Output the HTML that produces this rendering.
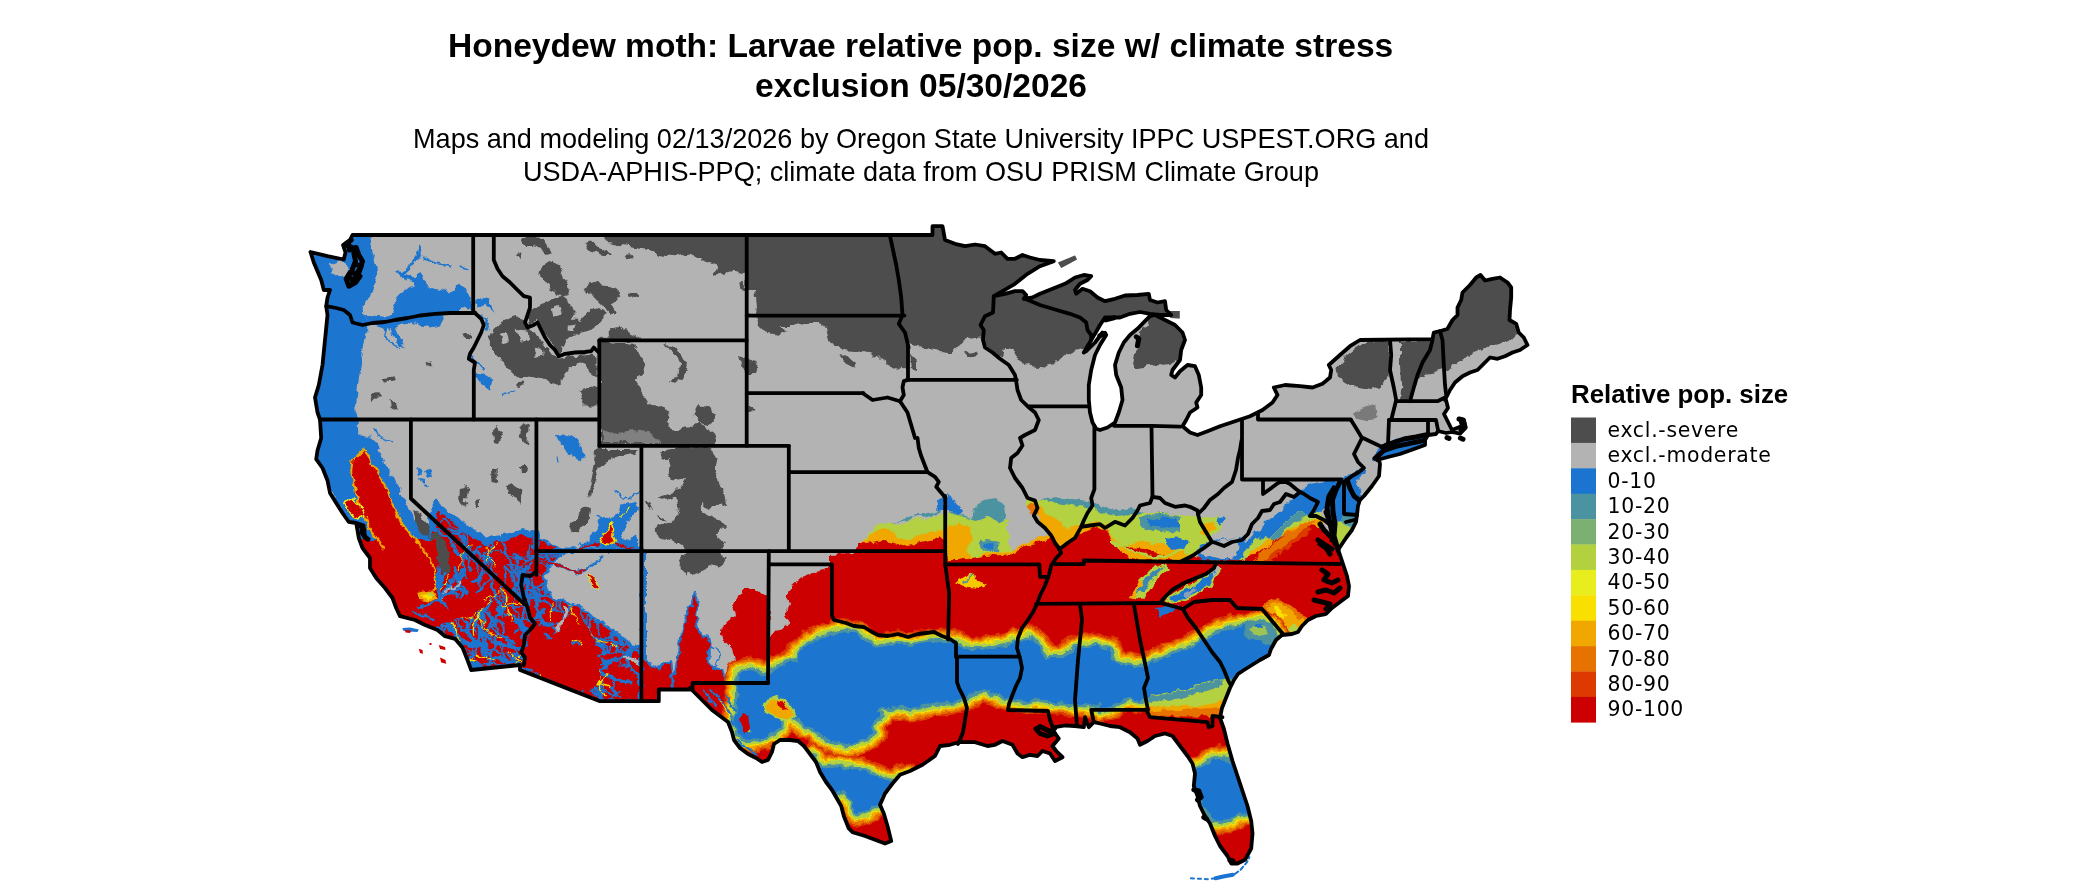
<!DOCTYPE html>
<html><head><meta charset="utf-8"><title>Honeydew moth map</title>
<style>html,body{margin:0;padding:0;background:#fff;overflow:hidden}body{width:2100px;height:892px;position:relative}</style></head>
<body>
<svg width="2100" height="892" viewBox="0 0 2100 892" style="position:absolute;left:0;top:0">
<defs>
<clipPath id="land"><path d="M352.5,235.0 L932.5,235.0 L932.5,226.2 L942.5,226.2 L945.0,240.0 L955.0,243.8 L965.0,246.2 L975.0,244.5 L985.0,246.2 L990.0,250.0 L995.0,253.8 L1001.2,252.5 L1007.5,258.8 L1015.0,258.8 L1022.5,255.0 L1030.0,257.5 L1040.0,260.0 L1053.8,261.2 L1040.0,266.2 L1027.5,273.8 L1015.0,283.8 L1002.5,291.2 L993.8,296.2 L1005.0,293.8 L1015.0,291.2 L1022.5,291.2 L1026.2,295.0 L1023.8,298.8 L1032.5,297.5 L1040.0,293.8 L1052.5,288.8 L1065.0,283.8 L1075.0,277.5 L1083.8,275.0 L1091.2,276.2 L1087.5,280.0 L1080.0,283.8 L1075.0,290.0 L1076.2,293.8 L1082.5,288.8 L1090.0,291.2 L1097.5,297.5 L1105.0,301.2 L1115.0,298.8 L1125.0,295.5 L1137.5,295.0 L1148.8,293.8 L1150.0,300.0 L1157.5,302.5 L1165.0,301.2 L1166.2,310.0 L1171.2,315.0 L1160.0,315.0 L1150.0,313.8 L1140.0,312.0 L1130.0,313.8 L1120.0,317.5 L1112.5,317.5 L1105.0,317.5 L1100.0,325.0 L1095.0,333.8 L1091.2,340.0 L1083.8,352.5 L1086.2,351.2 L1095.0,342.5 L1102.5,332.5 L1106.2,335.0 L1100.0,345.0 L1095.0,355.0 L1091.2,370.0 L1088.8,385.0 L1088.8,400.0 L1090.0,412.5 L1092.5,422.5 L1096.2,428.8 L1100.0,430.0 L1107.5,427.5 L1115.0,422.5 L1118.8,412.5 L1122.5,400.0 L1121.2,387.5 L1116.2,375.0 L1115.0,365.0 L1118.8,352.5 L1123.8,342.5 L1130.0,335.0 L1137.5,328.8 L1145.0,321.2 L1150.0,316.2 L1155.0,315.0 L1165.0,320.0 L1175.0,325.0 L1182.5,332.5 L1185.0,340.0 L1181.2,350.0 L1180.0,360.0 L1172.5,370.0 L1171.2,375.0 L1175.0,377.5 L1180.0,371.2 L1187.5,365.0 L1195.0,366.2 L1198.8,375.0 L1201.2,387.5 L1201.2,395.0 L1196.2,402.5 L1197.5,407.5 L1190.0,412.5 L1186.2,420.0 L1182.5,426.2 L1190.0,432.5 L1197.5,435.0 L1207.5,431.2 L1220.0,426.2 L1235.0,421.2 L1250.0,416.2 L1262.5,410.0 L1272.5,402.5 L1277.5,395.0 L1273.8,387.5 L1285.0,385.0 L1300.0,386.2 L1312.5,387.5 L1322.5,383.8 L1330.0,377.5 L1331.2,370.0 L1328.8,365.0 L1340.0,355.0 L1350.0,346.2 L1360.0,340.0 L1432.5,339.2 L1433.8,332.5 L1440.0,331.2 L1447.5,328.8 L1452.5,320.0 L1457.5,315.0 L1457.5,307.5 L1461.2,300.0 L1462.5,292.5 L1470.0,285.0 L1476.2,277.5 L1480.5,275.0 L1485.0,280.5 L1492.5,278.8 L1500.0,277.5 L1507.5,282.5 L1511.2,287.5 L1511.2,297.5 L1510.0,310.0 L1509.5,320.0 L1516.2,323.8 L1518.8,332.5 L1523.8,337.5 L1527.5,345.0 L1520.0,350.0 L1512.5,352.5 L1505.0,356.2 L1497.5,358.8 L1490.0,357.5 L1485.0,362.5 L1477.5,370.0 L1470.0,372.5 L1462.5,376.2 L1455.0,382.5 L1450.0,390.0 L1447.5,395.0 L1445.0,400.0 L1446.0,400.0 L1448.0,408.0 L1444.0,414.0 L1448.0,422.0 L1452.0,430.0 L1457.0,428.0 L1462.0,426.0 L1460.0,419.0 L1464.0,420.0 L1465.6,428.0 L1460.0,433.6 L1452.0,432.0 L1446.0,433.0 L1438.0,431.0 L1436.0,434.0 L1428.0,435.0 L1425.0,440.0 L1425.0,445.0 L1414.0,449.0 L1400.0,454.0 L1388.0,457.0 L1377.0,460.0 L1378.0,456.0 L1380.0,464.0 L1379.0,476.0 L1372.0,486.0 L1364.0,496.0 L1360.0,500.0 L1358.0,506.0 L1357.0,515.0 L1356.0,522.0 L1352.0,530.0 L1346.0,538.0 L1340.0,547.0 L1338.0,550.0 L1339.0,554.0 L1339.0,552.0 L1343.0,564.0 L1347.0,576.0 L1349.0,586.0 L1348.0,596.0 L1340.0,602.0 L1332.0,608.0 L1326.0,614.0 L1316.0,616.0 L1308.0,620.0 L1302.0,626.0 L1298.0,632.0 L1292.0,634.0 L1282.0,635.0 L1276.0,640.0 L1271.0,649.0 L1269.0,655.0 L1260.0,660.0 L1252.0,665.0 L1244.0,670.0 L1238.0,674.0 L1234.0,680.0 L1230.0,688.0 L1226.0,698.0 L1222.0,708.0 L1220.0,718.0 L1223.8,728.5 L1227.5,743.5 L1232.5,761.0 L1237.5,776.0 L1242.5,791.0 L1247.5,806.0 L1251.2,821.0 L1252.5,833.5 L1251.2,848.5 L1245.0,859.8 L1237.5,863.5 L1231.2,863.5 L1227.5,856.0 L1220.0,846.0 L1215.0,836.0 L1210.0,823.5 L1205.0,816.0 L1200.0,806.0 L1197.5,796.0 L1193.8,786.0 L1195.0,773.5 L1192.5,763.5 L1187.5,756.0 L1180.0,746.0 L1172.5,736.0 L1165.0,733.5 L1155.0,736.0 L1147.5,741.0 L1140.0,744.8 L1137.5,738.5 L1130.0,732.2 L1120.0,727.2 L1110.0,726.0 L1100.0,723.5 L1093.8,722.2 L1088.8,727.2 L1085.0,717.2 L1083.8,727.2 L1075.0,726.0 L1065.0,725.5 L1055.0,727.2 L1052.5,729.8 L1058.8,738.5 L1052.5,746.0 L1056.2,751.0 L1062.5,757.2 L1055.0,761.0 L1050.0,753.5 L1042.5,751.0 L1037.5,756.0 L1030.0,754.8 L1022.5,757.2 L1017.5,753.5 L1012.5,744.8 L1002.5,741.0 L995.0,744.8 L987.5,746.0 L975.0,742.2 L965.0,742.2 L958.8,742.2 L950.0,744.8 L940.0,746.0 L935.0,756.0 L922.5,764.8 L910.0,771.0 L900.0,774.8 L892.5,783.5 L885.0,793.5 L880.0,804.8 L883.8,813.5 L887.5,826.0 L891.2,841.0 L885.0,843.5 L875.0,839.8 L865.0,836.0 L852.5,832.2 L848.8,828.5 L843.8,816.0 L841.2,806.0 L836.2,797.2 L832.0,790.0 L826.0,782.0 L820.0,772.0 L816.0,762.0 L810.0,754.0 L804.0,746.0 L798.0,741.0 L790.0,740.0 L780.0,740.0 L774.0,744.0 L772.0,752.0 L768.0,760.0 L762.0,762.0 L756.0,758.0 L748.0,754.0 L740.0,748.0 L734.0,740.0 L732.0,732.0 L728.0,722.0 L720.0,716.0 L712.0,710.0 L704.0,702.0 L696.0,694.0 L690.0,688.0 L692.5,689.5 L658.8,689.5 L658.8,701.2 L641.2,701.2 L600.0,701.2 L520.0,670.0 L520.0,665.0 L471.2,670.0 L467.5,660.0 L462.5,647.5 L455.0,638.8 L445.0,636.2 L437.5,630.0 L425.0,625.0 L415.0,620.0 L400.0,616.2 L396.2,608.0 L392.5,598.0 L385.0,588.0 L376.2,578.0 L370.0,568.0 L370.0,558.0 L362.5,548.0 L358.8,538.0 L356.2,523.0 L348.8,521.8 L342.5,513.0 L336.2,503.0 L330.0,493.0 L327.5,480.5 L322.5,468.0 L316.2,459.2 L317.5,450.5 L321.2,438.0 L320.0,419.5 L317.5,412.5 L315.0,397.5 L318.8,385.0 L322.5,365.0 L325.0,340.0 L327.5,315.0 L326.2,306.2 L327.5,297.5 L330.0,290.0 L323.8,290.0 L321.2,280.0 L313.8,262.5 L310.5,252.0 L327.5,256.2 L343.8,259.5 L345.5,252.5 L343.0,245.0 L350.0,240.0Z"/>
<path d="M1167.7,310.9 L1179.7,310.9 L1179.7,318.5 L1170.7,317.9 L1167.7,314.9Z"/>
<path d="M1058.0,262.5 L1075.0,255.5 L1077.0,259.5 L1061.2,268.0Z"/>
</clipPath>
<filter id="rough" x="-2%" y="-2%" width="104%" height="104%"><feTurbulence type="fractalNoise" baseFrequency="0.09" numOctaves="3" seed="3" result="n"/><feDisplacementMap in="SourceGraphic" in2="n" scale="9" xChannelSelector="R" yChannelSelector="G"/></filter>
<filter id="rough2" x="-2%" y="-2%" width="104%" height="104%"><feTurbulence type="fractalNoise" baseFrequency="0.12" numOctaves="3" seed="11" result="n"/><feDisplacementMap in="SourceGraphic" in2="n" scale="7" xChannelSelector="R" yChannelSelector="G"/></filter>
</defs>
<rect width="2100" height="892" fill="#fff"/>
<g clip-path="url(#land)">
<rect x="290" y="215" width="1260" height="677" fill="#b3b3b3"/>
<g filter="url(#rough)">
<path d="M603.0,217.0 L603.0,238.0 L608.0,243.0 L620.0,245.0 L636.0,247.0 L650.0,249.0 L660.0,255.0 L672.0,257.0 L680.0,253.0 L690.0,255.0 L700.0,259.0 L708.0,263.0 L716.0,267.0 L714.0,275.0 L726.0,272.0 L736.0,273.0 L744.0,274.0 L746.4,275.0 L746.4,291.0 L755.0,291.0 L757.0,305.0 L756.0,314.0 L746.4,314.4 L746.4,317.0 L758.0,317.0 L760.0,325.0 L768.0,333.0 L780.0,335.0 L788.0,331.0 L780.0,327.0 L792.0,327.0 L804.0,324.0 L820.0,324.0 L826.0,327.0 L828.0,337.0 L834.0,345.0 L844.0,350.0 L856.0,351.0 L868.0,353.0 L880.0,357.0 L888.0,365.0 L900.0,368.0 L907.0,369.0 L908.0,353.0 L909.0,343.0 L920.0,346.2 L935.0,350.0 L950.0,352.5 L957.5,345.0 L970.0,338.8 L981.2,337.5 L985.0,347.5 L995.0,355.0 L1002.5,358.8 L1005.0,350.0 L1012.5,351.2 L1015.0,357.5 L1022.5,362.5 L1032.5,366.2 L1045.0,367.5 L1055.0,365.0 L1060.0,357.5 L1067.5,353.8 L1077.5,350.0 L1086.2,347.5 L1090.0,341.2 L1096.2,330.0 L1102.5,322.5 L1115.0,318.8 L1147.5,316.2 L1148.8,322.5 L1140.0,332.5 L1137.5,342.5 L1140.0,347.5 L1133.8,355.0 L1132.5,362.5 L1137.5,368.8 L1147.5,366.2 L1160.0,365.0 L1170.0,362.5 L1178.8,357.5 L1182.5,347.5 L1183.8,335.0 L1190.0,327.5 L1190.0,200.0Z" fill="#4d4d4d"/>
<path d="M1400.0,341.2 L1432.5,340.0 L1435.0,332.5 L1440.0,325.0 L1465.0,265.0 L1515.0,270.0 L1530.0,332.5 L1518.8,332.5 L1515.0,335.0 L1505.0,342.5 L1490.0,346.2 L1477.5,351.2 L1465.0,357.5 L1452.5,365.0 L1443.8,375.0 L1443.8,367.5 L1435.0,370.0 L1425.0,375.0 L1416.2,380.0 L1412.5,390.0 L1410.0,400.0 L1400.0,400.0 L1401.2,387.5 L1400.0,365.0Z" fill="#4d4d4d"/>
<path d="M1345.0,355.0 L1357.5,345.0 L1370.0,341.2 L1389.5,341.2 L1389.5,370.0 L1387.5,380.0 L1380.0,387.5 L1370.0,390.0 L1357.5,387.5 L1347.5,382.5 L1338.8,377.5 L1337.5,370.0 L1342.5,362.5Z" fill="#4d4d4d"/>
<path d="M1353.8,412.5 L1365.0,407.5 L1376.2,405.0 L1377.5,415.0 L1367.5,421.2 L1356.2,418.8Z" fill="#4d4d4d" opacity="0.55"/>
<path d="M489.9,336.7 L493.9,328.7 L499.9,322.8 L507.8,318.8 L515.8,315.8 L523.8,318.8 L527.8,326.7 L533.8,332.7 L539.8,336.7 L543.7,344.7 L551.7,354.7 L559.7,358.7 L569.7,356.7 L579.7,355.7 L591.6,354.7 L597.6,356.7 L597.6,376.6 L591.6,372.6 L583.6,364.7 L577.7,362.7 L569.7,368.6 L563.7,376.6 L557.7,382.6 L547.7,382.6 L539.8,378.6 L529.8,376.6 L519.8,378.6 L511.8,372.6 L505.8,364.7 L499.9,358.7 L493.9,352.7 L489.9,346.7Z" fill="#4d4d4d"/>
<path d="M537.8,270.9 L543.7,264.9 L551.7,260.9 L559.7,264.9 L563.7,274.9 L567.7,284.9 L569.7,292.8 L563.7,296.8 L555.7,292.8 L549.7,284.9 L541.7,280.9Z" fill="#4d4d4d"/>
<path d="M539.8,304.8 L551.7,298.8 L563.7,296.8 L571.7,302.8 L575.7,312.8 L571.7,320.8 L579.7,320.8 L587.6,312.8 L593.6,306.8 L599.6,308.8 L605.6,312.8 L603.6,320.8 L595.6,326.7 L587.6,330.7 L579.7,332.7 L571.7,336.7 L563.7,344.7 L559.7,352.7 L555.7,350.7 L551.7,344.7 L545.7,336.7 L541.7,328.7 L537.8,318.8 L533.8,322.8 L529.8,324.8 L527.8,318.8 L529.8,310.8Z" fill="#4d4d4d"/>
<path d="M583.6,288.8 L593.6,282.9 L605.6,283.9 L615.6,288.8 L622.5,294.8 L617.6,300.8 L611.6,302.8 L615.6,310.8 L609.6,314.8 L603.6,306.8 L597.6,300.8 L591.6,296.8Z" fill="#4d4d4d"/>
<path d="M628.5,292.8 L636.5,291.8 L639.5,295.8 L634.5,298.8 L629.5,296.8Z" fill="#4d4d4d"/>
<path d="M605.6,336.7 L611.6,328.7 L619.6,326.7 L627.5,332.7 L635.5,336.7 L639.5,340.3 L599.6,340.3 L599.6,336.7Z" fill="#4d4d4d"/>
<path d="M519.8,239.0 L527.8,237.0 L543.7,239.0 L547.7,245.0 L551.7,252.9 L545.7,254.9 L539.8,246.9 L531.8,245.0 L523.8,245.0Z" fill="#4d4d4d"/>
<path d="M513.8,256.9 L521.8,250.9 L519.8,258.9Z" fill="#4d4d4d"/>
<path d="M585.6,243.0 L591.6,241.0 L597.6,246.9 L609.6,250.9 L611.6,254.9 L603.6,254.9 L595.6,250.9 L589.6,248.9Z" fill="#4d4d4d"/>
<path d="M624.5,255.9 L632.5,254.9 L634.5,257.9 L627.5,259.3Z" fill="#4d4d4d"/>
<path d="M739.3,280.9 L744.8,278.9 L744.8,290.8 L740.2,288.8Z" fill="#4d4d4d"/>
<path d="M579.7,390.6 L591.6,386.6 L597.6,388.6 L597.6,404.6 L583.6,404.6Z" fill="#4d4d4d"/>
<path d="M513.8,383.6 L522.8,382.6 L523.8,386.6 L515.8,387.0Z" fill="#4d4d4d"/>
<path d="M462.9,333.7 L469.9,332.7 L470.9,338.7 L464.9,337.7Z" fill="#4d4d4d"/>
<path d="M499.9,332.7 L506.8,330.7 L508.8,342.7 L501.8,344.7Z" fill="#b3b3b3"/>
<path d="M516.8,328.7 L526.8,330.7 L527.8,341.7 L518.8,342.7Z" fill="#b3b3b3"/>
<path d="M533.8,346.7 L542.7,347.7 L543.7,355.7 L535.8,356.7Z" fill="#b3b3b3"/>
<path d="M551.7,308.8 L559.7,306.8 L561.7,314.8 L553.7,316.8Z" fill="#b3b3b3"/>
<path d="M567.7,324.8 L575.7,323.8 L573.7,330.7 L567.7,330.7Z" fill="#b3b3b3"/>
<path d="M697.5,405.0 L710.0,407.5 L715.0,415.0 L710.0,425.0 L700.0,422.5 L692.5,415.0Z" fill="#4d4d4d"/>
<path d="M370.0,392.5 L377.5,390.0 L378.8,396.2 L372.5,400.0Z" fill="#4d4d4d"/>
<path d="M388.8,400.0 L395.0,405.0 L397.5,411.2 L391.2,407.5Z" fill="#4d4d4d"/>
<path d="M382.5,378.8 L392.5,376.2 L393.8,380.0 L385.0,382.5Z" fill="#4d4d4d"/>
<path d="M427.5,362.5 L432.5,361.2 L432.5,366.2 L428.8,366.2Z" fill="#4d4d4d"/>
<path d="M600.0,342.5 L632.5,342.5 L636.2,350.0 L640.0,357.5 L645.0,365.0 L642.5,375.0 L635.0,382.5 L640.0,390.0 L645.0,397.5 L650.0,405.0 L657.5,408.8 L665.0,407.5 L670.0,415.0 L667.5,422.5 L675.0,427.5 L690.0,427.5 L700.0,422.5 L710.0,427.5 L715.0,438.0 L715.0,445.0 L600.0,445.0Z" fill="#4d4d4d"/>
<path d="M662.0,344.0 L672.0,345.0 L682.0,353.0 L687.0,363.0 L686.0,371.0 L680.0,379.0 L676.0,385.0 L672.0,383.0 L678.0,375.0 L680.0,365.0 L676.0,355.0 L668.0,349.0Z" fill="#4d4d4d"/>
<path d="M738.0,359.0 L744.0,358.0 L752.0,361.0 L758.0,363.0 L756.0,371.0 L750.0,373.0 L744.0,369.0 L740.0,365.0Z" fill="#4d4d4d"/>
<path d="M838.0,355.0 L848.0,357.0 L856.0,363.0 L854.0,368.0 L846.0,363.0 L840.0,359.0Z" fill="#4d4d4d"/>
<path d="M910.0,353.0 L918.0,361.0 L918.0,371.0 L912.0,369.0Z" fill="#4d4d4d"/>
<path d="M837.5,356.2 L847.5,355.0 L855.0,362.5 L852.5,367.5 L842.5,362.5Z" fill="#4d4d4d"/>
<path d="M965.0,352.5 L975.0,350.0 L977.5,355.0 L967.5,356.2Z" fill="#4d4d4d"/>
<path d="M597.8,447.9 L637.7,447.9 L633.7,453.9 L623.7,455.9 L613.8,457.9 L605.8,461.8 L599.8,467.8 L597.8,475.8 L595.8,483.8 L591.8,491.8 L588.8,498.8 L587.8,493.8 L590.8,483.8 L592.8,473.8 L594.8,463.8 L595.8,453.9Z" fill="#4d4d4d"/>
<path d="M568.9,527.7 L573.9,521.7 L579.9,513.7 L585.8,505.7 L589.8,504.7 L589.8,511.7 L588.8,519.7 L583.8,525.7 L577.9,531.7 L571.9,533.7Z" fill="#4d4d4d"/>
<path d="M659.7,449.9 L671.6,447.9 L689.6,447.9 L711.5,448.9 L716.5,457.9 L714.5,467.8 L717.5,477.8 L719.5,485.8 L725.5,491.8 L727.5,499.8 L725.5,507.7 L717.5,505.7 L709.5,509.7 L703.5,503.7 L701.5,511.7 L709.5,515.7 L719.5,519.7 L726.5,527.7 L719.5,527.7 L715.5,535.7 L725.5,541.6 L721.5,549.6 L721.5,557.6 L715.5,565.6 L707.5,559.6 L699.6,557.6 L691.6,567.6 L685.6,575.6 L681.6,569.6 L681.6,557.6 L689.6,551.6 L683.6,547.6 L675.6,541.6 L669.6,537.7 L663.6,539.7 L657.7,537.7 L655.7,529.7 L659.7,525.7 L667.6,523.7 L671.6,519.7 L675.6,513.7 L679.6,507.7 L677.6,499.8 L673.6,495.8 L663.6,499.8 L659.7,497.8 L667.6,493.8 L675.6,489.8 L681.6,485.8 L685.6,477.8 L679.6,481.8 L671.6,479.8 L667.6,473.8 L671.6,467.8 L669.6,459.9 L663.6,457.9Z" fill="#4d4d4d"/>
<path d="M645.7,501.7 L649.7,503.7 L651.7,509.7 L648.7,510.7Z" fill="#4d4d4d"/>
<path d="M655.7,513.7 L663.6,517.7 L667.6,521.7 L659.7,519.7Z" fill="#4d4d4d"/>
<path d="M748.4,407.0 L753.4,406.0 L755.4,410.0 L751.4,413.0 L748.4,411.0Z" fill="#4d4d4d"/>
<path d="M669.6,404.0 L691.6,408.0 L689.6,421.9 L677.6,429.9 L669.6,427.9Z" fill="#b3b3b3"/>
<path d="M601.8,429.9 L615.8,433.9 L631.7,429.9 L647.7,431.9 L659.7,437.9 L659.7,442.9 L601.8,442.9Z" fill="#b3b3b3" opacity="0.5"/>
<path d="M680.0,555.0 L695.0,552.5 L710.0,553.8 L725.0,557.5 L720.0,567.5 L710.0,565.0 L700.0,570.0 L692.5,575.0 L682.5,572.5 L685.0,562.5Z" fill="#4d4d4d"/>
<path d="M415.0,513.0 L422.5,518.0 L426.2,528.0 L425.0,535.5 L420.0,530.5 L416.2,520.5Z" fill="#4d4d4d"/>
<path d="M430.0,538.0 L437.5,535.5 L442.5,545.5 L446.2,555.5 L450.0,568.0 L445.0,570.5 L440.0,558.0 L433.8,548.0Z" fill="#4d4d4d"/>
<path d="M492.5,470.5 L497.5,469.2 L497.5,480.5 L492.5,480.5Z" fill="#4d4d4d"/>
<path d="M507.5,486.8 L515.0,484.2 L522.5,490.5 L520.0,503.0 L515.0,495.5 L510.0,498.0 L506.2,491.8Z" fill="#4d4d4d"/>
<path d="M462.5,500.5 L467.5,501.8 L465.0,505.5Z" fill="#4d4d4d"/>
<path d="M520.0,468.0 L525.0,466.8 L523.8,473.0Z" fill="#4d4d4d"/>
<path d="M492.0,430.0 L498.0,426.0 L502.0,432.0 L498.0,444.0 L493.0,443.0Z" fill="#4d4d4d"/>
<path d="M518.0,428.0 L524.0,422.0 L530.0,426.0 L528.0,446.0 L523.0,440.0 L520.0,434.0Z" fill="#4d4d4d"/>
<path d="M492.0,469.0 L497.0,468.0 L498.0,480.0 L493.0,480.0Z" fill="#4d4d4d"/>
<path d="M507.0,486.0 L514.0,484.0 L522.0,490.0 L520.0,500.0 L512.0,494.0 L507.0,496.0Z" fill="#4d4d4d"/>
<path d="M461.0,488.0 L468.0,486.0 L466.0,496.0 L463.0,506.0 L460.0,500.0Z" fill="#4d4d4d"/>
<path d="M476.0,500.0 L480.0,499.0 L480.0,508.0 L477.0,508.0Z" fill="#4d4d4d"/>
<path d="M520.0,466.0 L525.0,465.0 L526.0,474.0 L521.0,474.0Z" fill="#4d4d4d"/>
</g>
<g filter="url(#rough2)">
<path d="M305.0,230.0 L370.0,232.5 L371.2,242.5 L372.5,252.5 L376.2,265.0 L377.5,277.5 L372.5,290.0 L367.5,300.0 L362.5,307.5 L365.0,315.0 L367.5,322.5 L367.5,327.5 L365.0,340.0 L362.5,355.0 L360.0,370.0 L357.5,390.0 L356.2,405.0 L357.5,419.5 L358.8,440.0 L305.0,440.0Z" fill="#1b74cf"/>
<path d="M330.0,265.0 L340.0,261.2 L347.5,265.0 L346.2,275.0 L337.5,277.5 L331.2,272.5Z" fill="#b3b3b3"/>
<path d="M367.5,322.5 L375.0,325.0 L382.5,327.5 L385.0,335.0 L387.5,327.5 L392.5,335.0 L400.0,345.0 L405.0,347.5 L400.0,340.0 L395.0,330.0 L400.0,323.8 L410.0,322.5 L420.0,325.0 L430.0,327.5 L440.0,325.0 L445.0,315.0 L455.0,312.5 L465.0,307.5 L473.8,310.0 L473.8,305.0 L470.0,297.5 L465.0,287.5 L460.0,283.8 L450.0,292.5 L440.0,290.0 L430.0,287.5 L425.0,280.0 L420.0,272.5 L415.0,277.5 L405.0,273.8 L397.5,271.2 L400.0,275.0 L410.0,280.0 L415.0,287.5 L407.5,290.0 L397.5,295.0 L392.5,302.5 L395.0,310.0 L390.0,315.0 L380.0,317.5 L372.5,315.0 L365.0,315.0Z" fill="#1b74cf"/>
<path d="M420.0,247.5 L418.0,256.2 L412.5,263.8 L406.2,270.0 L401.2,273.8" fill="none" stroke="#1b74cf" stroke-width="3.2" stroke-linecap="round" stroke-linejoin="round"/>
<path d="M397.5,271.2 L402.5,276.2 L407.5,278.8" fill="none" stroke="#1b74cf" stroke-width="2" stroke-linecap="round" stroke-linejoin="round"/>
<path d="M422.5,257.5 L430.0,261.2 L440.0,263.8 L450.0,266.2" fill="none" stroke="#1b74cf" stroke-width="1.8" stroke-linecap="round" stroke-linejoin="round"/>
<path d="M460.0,266.2 L465.0,268.8 L468.8,269.5" fill="none" stroke="#1b74cf" stroke-width="1.5" stroke-linecap="round" stroke-linejoin="round"/>
<path d="M385.0,335.0 L390.0,342.5 L400.0,347.5" fill="none" stroke="#1b74cf" stroke-width="2" stroke-linecap="round" stroke-linejoin="round"/>
<path d="M475.9,300.8 L482.9,297.8 L488.9,299.8 L491.9,306.8 L494.9,312.8 L489.9,308.8 L484.9,304.8 L478.9,306.8Z" fill="#1b74cf"/>
<path d="M477.9,315.8 L485.9,318.8 L488.9,326.7 L486.9,330.7" fill="none" stroke="#1b74cf" stroke-width="2" stroke-linecap="round" stroke-linejoin="round"/>
<path d="M474.9,371.6 L481.9,372.6 L488.9,376.6 L492.3,380.6 L489.9,390.6 L484.9,386.6 L478.9,382.6 L475.5,377.6Z" fill="#1b74cf"/>
<path d="M469.9,356.7 L477.9,362.7 L482.9,368.6" fill="none" stroke="#1b74cf" stroke-width="2" stroke-linecap="round" stroke-linejoin="round"/>
<path d="M500.8,395.6 L507.8,393.6 L514.8,391.0" fill="none" stroke="#1b74cf" stroke-width="1.5" stroke-linecap="round" stroke-linejoin="round"/>
<path d="M555.9,434.9 L567.9,433.9 L577.9,437.9 L581.8,447.9 L583.8,457.9 L579.9,459.9 L573.9,455.9 L565.9,451.9 L559.9,443.9Z" fill="#1b74cf"/>
<path d="M315.0,435.5 L372.5,435.5 L377.5,448.0 L383.8,460.5 L391.2,475.5 L398.8,488.0 L405.0,500.5 L410.0,513.0 L417.5,525.5 L427.5,538.0 L435.0,550.5 L440.0,563.0 L430.0,568.0 L415.0,548.0 L400.0,533.0 L385.0,518.0 L372.5,533.0 L358.8,538.0 L348.8,521.8 L315.0,463.0Z" fill="#1b74cf"/>
<path d="M367.8,427.7 L377.8,423.7 L385.8,427.7 L393.7,437.7 L401.7,439.7 L407.7,447.6 L401.7,451.6 L393.7,447.6 L383.8,443.6 L375.8,439.7 L369.8,435.7Z" fill="#b3b3b3" opacity="0.65"/>
<path d="M373.8,429.7 L381.8,437.7 L391.7,441.6" fill="none" stroke="#1b74cf" stroke-width="1.5" stroke-linecap="round" stroke-linejoin="round"/>
<path d="M415.0,467.0 L420.0,468.0 L422.0,473.0 L418.0,475.0Z" fill="#1b74cf"/>
<path d="M424.0,471.0 L430.0,470.0 L432.0,476.0 L427.0,478.0Z" fill="#1b74cf"/>
<path d="M420.0,478.0 L425.0,479.0 L426.0,484.0 L422.0,483.0Z" fill="#1b74cf"/>
<path d="M426.0,484.0 L430.0,485.0 L429.0,488.0 L426.0,487.6Z" fill="#1b74cf"/>
<path d="M436.2,504.2 L445.0,513.0 L455.0,520.5 L465.0,528.0 L475.0,535.5 L487.5,541.8 L497.5,538.0 L510.0,536.8 L522.5,531.8 L536.2,534.2 L536.2,551.0 L642.5,551.0 L642.5,703.0 L565.0,703.0 L465.0,663.0 L390.0,618.0 L372.5,578.0 L370.0,558.0 L362.5,548.0 L358.8,538.0 L365.0,533.0 L375.0,538.0 L385.0,553.0 L390.0,563.0 L410.0,578.0 L430.0,598.0 L437.5,588.0 L437.5,573.0 L432.5,560.5 L426.2,548.0 L427.5,538.0 L430.0,525.5 L432.5,518.0Z" fill="#cc0000" stroke="#1b74cf" stroke-width="7" stroke-linejoin="round"/>
<path d="M450.6,534.2 L457.5,533.9 L461.7,531.7" fill="none" stroke="#1b74cf" stroke-width="2.5" stroke-linecap="round" stroke-linejoin="round"/>
<path d="M537.7,620.1 L542.3,623.1 L548.4,623.1 L555.2,623.7 L561.5,621.8 L566.3,616.5 L571.0,612.0" fill="none" stroke="#1b74cf" stroke-width="1.5" stroke-linecap="round" stroke-linejoin="round"/>
<path d="M579.3,596.8 L574.8,601.0 L570.4,607.2 L565.8,612.0 L562.7,618.7" fill="none" stroke="#1b74cf" stroke-width="3.0" stroke-linecap="round" stroke-linejoin="round"/>
<path d="M401.9,601.4 L402.2,609.8 L404.2,616.5 L405.3,624.6" fill="none" stroke="#1b74cf" stroke-width="1.5" stroke-linecap="round" stroke-linejoin="round"/>
<path d="M626.8,598.5 L633.9,603.4 L639.4,606.2" fill="none" stroke="#1b74cf" stroke-width="2.0" stroke-linecap="round" stroke-linejoin="round"/>
<path d="M486.2,613.5 L489.3,618.4 L489.9,623.2 L492.3,627.8 L495.5,632.5 L500.9,635.2 L508.3,639.2 L514.3,643.2" fill="none" stroke="#1b74cf" stroke-width="2.0" stroke-linecap="round" stroke-linejoin="round"/>
<path d="M580.1,678.1 L577.9,683.7 L578.3,689.9 L581.8,693.8 L584.6,701.8" fill="none" stroke="#1b74cf" stroke-width="3.0" stroke-linecap="round" stroke-linejoin="round"/>
<path d="M465.5,630.3 L470.6,637.4 L474.8,640.7 L480.1,642.7 L483.6,645.6 L485.2,650.2 L485.9,656.7" fill="none" stroke="#1b74cf" stroke-width="2.5" stroke-linecap="round" stroke-linejoin="round"/>
<path d="M638.2,673.7 L642.1,679.9 L642.4,686.2" fill="none" stroke="#1b74cf" stroke-width="3.0" stroke-linecap="round" stroke-linejoin="round"/>
<path d="M588.2,648.0 L590.5,653.4 L594.8,660.1 L597.0,667.1 L602.2,672.9 L607.8,675.2" fill="none" stroke="#1b74cf" stroke-width="2.5" stroke-linecap="round" stroke-linejoin="round"/>
<path d="M481.9,630.6 L485.6,634.5 L492.7,637.0 L497.2,642.1 L501.6,647.1 L502.2,653.8 L507.4,659.5" fill="none" stroke="#1b74cf" stroke-width="1.5" stroke-linecap="round" stroke-linejoin="round"/>
<path d="M613.5,635.9 L613.3,642.5 L609.6,648.7 L606.2,651.9 L602.4,654.3 L596.2,656.7 L587.8,656.9 L583.9,658.7" fill="none" stroke="#1b74cf" stroke-width="2.0" stroke-linecap="round" stroke-linejoin="round"/>
<path d="M530.7,543.9 L530.2,549.1 L529.2,557.7 L524.2,561.7 L520.9,566.7 L518.4,572.5 L518.4,577.1 L515.6,584.0" fill="none" stroke="#1b74cf" stroke-width="1.5" stroke-linecap="round" stroke-linejoin="round"/>
<path d="M462.7,554.6 L462.2,562.9 L464.3,567.8 L464.8,573.8 L465.6,578.2" fill="none" stroke="#1b74cf" stroke-width="2.5" stroke-linecap="round" stroke-linejoin="round"/>
<path d="M462.6,571.4 L461.4,576.8 L458.4,583.2 L455.0,587.2" fill="none" stroke="#1b74cf" stroke-width="3.0" stroke-linecap="round" stroke-linejoin="round"/>
<path d="M591.4,673.1 L596.3,677.6 L600.4,681.2 L602.6,688.8 L605.4,692.1 L611.4,694.7" fill="none" stroke="#1b74cf" stroke-width="2.0" stroke-linecap="round" stroke-linejoin="round"/>
<path d="M433.8,528.4 L439.9,533.4 L447.3,535.3 L451.0,538.8 L452.8,545.2 L456.4,551.2 L462.6,556.9 L466.7,557.6" fill="none" stroke="#1b74cf" stroke-width="3.0" stroke-linecap="round" stroke-linejoin="round"/>
<path d="M636.3,606.5 L636.4,613.7 L636.0,622.6 L637.0,627.6" fill="none" stroke="#1b74cf" stroke-width="2.0" stroke-linecap="round" stroke-linejoin="round"/>
<path d="M466.8,604.8 L470.2,608.7 L475.9,609.8 L479.9,612.7 L481.5,617.4 L483.6,622.1" fill="none" stroke="#1b74cf" stroke-width="2.5" stroke-linecap="round" stroke-linejoin="round"/>
<path d="M544.9,553.6 L551.5,555.4 L558.6,555.7 L565.3,558.5" fill="none" stroke="#1b74cf" stroke-width="2.0" stroke-linecap="round" stroke-linejoin="round"/>
<path d="M612.1,660.1 L607.7,664.1 L604.1,669.3 L598.1,671.8 L591.7,673.4 L584.9,672.3" fill="none" stroke="#1b74cf" stroke-width="3.0" stroke-linecap="round" stroke-linejoin="round"/>
<path d="M585.2,645.6 L589.7,646.8 L597.6,644.9 L604.7,643.9" fill="none" stroke="#1b74cf" stroke-width="1.5" stroke-linecap="round" stroke-linejoin="round"/>
<path d="M585.1,653.0 L581.6,657.6 L579.1,661.9 L575.1,666.7" fill="none" stroke="#1b74cf" stroke-width="2.5" stroke-linecap="round" stroke-linejoin="round"/>
<path d="M635.6,602.4 L632.5,608.9 L632.8,614.2 L631.5,620.8 L633.0,625.8 L634.2,633.1" fill="none" stroke="#1b74cf" stroke-width="2.5" stroke-linecap="round" stroke-linejoin="round"/>
<path d="M441.3,606.9 L435.9,610.2 L433.2,615.2 L433.8,624.1" fill="none" stroke="#1b74cf" stroke-width="3.0" stroke-linecap="round" stroke-linejoin="round"/>
<path d="M613.5,600.9 L616.7,607.3 L620.4,610.9 L624.7,614.6 L632.0,617.3 L639.7,617.1" fill="none" stroke="#1b74cf" stroke-width="3.0" stroke-linecap="round" stroke-linejoin="round"/>
<path d="M573.2,674.0 L574.6,682.5 L576.7,689.8 L576.9,693.9 L575.2,702.0" fill="none" stroke="#1b74cf" stroke-width="3.0" stroke-linecap="round" stroke-linejoin="round"/>
<path d="M623.6,585.9 L618.5,591.3 L617.1,596.6 L617.6,603.8 L618.5,610.2 L618.4,617.4" fill="none" stroke="#1b74cf" stroke-width="1.5" stroke-linecap="round" stroke-linejoin="round"/>
<path d="M589.1,613.6 L586.0,618.3 L585.5,623.9 L586.2,628.9 L591.4,633.5 L593.2,638.5 L593.6,645.3" fill="none" stroke="#1b74cf" stroke-width="1.5" stroke-linecap="round" stroke-linejoin="round"/>
<path d="M460.9,640.7 L460.1,646.6 L458.5,652.0 L453.1,655.7" fill="none" stroke="#1b74cf" stroke-width="3.0" stroke-linecap="round" stroke-linejoin="round"/>
<path d="M633.5,601.6 L635.5,606.7 L638.7,611.7" fill="none" stroke="#1b74cf" stroke-width="3.0" stroke-linecap="round" stroke-linejoin="round"/>
<path d="M542.4,656.3 L544.6,662.3 L551.1,666.8 L556.3,670.7" fill="none" stroke="#1b74cf" stroke-width="2.0" stroke-linecap="round" stroke-linejoin="round"/>
<path d="M437.8,567.1 L439.4,572.7 L440.3,577.6 L438.4,581.8 L438.8,587.7" fill="none" stroke="#1b74cf" stroke-width="2.0" stroke-linecap="round" stroke-linejoin="round"/>
<path d="M498.6,642.5 L506.3,644.7 L511.1,647.3 L519.2,647.6 L526.7,646.1 L532.9,647.5 L539.0,647.0" fill="none" stroke="#1b74cf" stroke-width="3.0" stroke-linecap="round" stroke-linejoin="round"/>
<path d="M470.4,546.6 L467.6,551.8 L463.5,554.8 L461.9,559.4" fill="none" stroke="#1b74cf" stroke-width="3.0" stroke-linecap="round" stroke-linejoin="round"/>
<path d="M543.9,608.6 L539.5,613.9 L539.3,618.4 L539.8,625.1 L538.3,632.7 L538.1,637.2 L536.7,643.6" fill="none" stroke="#1b74cf" stroke-width="2.0" stroke-linecap="round" stroke-linejoin="round"/>
<path d="M485.4,568.5 L487.9,574.7 L491.3,579.9 L492.4,584.7" fill="none" stroke="#1b74cf" stroke-width="1.5" stroke-linecap="round" stroke-linejoin="round"/>
<path d="M461.7,570.8 L457.8,576.1 L451.4,581.4 L448.3,585.6 L444.5,591.9 L437.3,596.2" fill="none" stroke="#1b74cf" stroke-width="2.5" stroke-linecap="round" stroke-linejoin="round"/>
<path d="M396.4,602.9 L396.9,610.0 L398.3,615.6 L398.0,620.5" fill="none" stroke="#1b74cf" stroke-width="3.0" stroke-linecap="round" stroke-linejoin="round"/>
<path d="M485.6,550.8 L480.7,556.7 L479.3,562.1 L477.9,569.5 L478.5,574.7" fill="none" stroke="#1b74cf" stroke-width="1.5" stroke-linecap="round" stroke-linejoin="round"/>
<path d="M522.8,569.1 L521.7,576.9 L518.1,581.1 L515.0,588.7 L511.8,592.1" fill="none" stroke="#1b74cf" stroke-width="2.5" stroke-linecap="round" stroke-linejoin="round"/>
<path d="M634.8,620.2 L638.4,626.0 L639.3,632.8 L639.5,638.7 L641.9,643.3" fill="none" stroke="#1b74cf" stroke-width="3.0" stroke-linecap="round" stroke-linejoin="round"/>
<path d="M528.8,633.8 L531.0,640.4 L534.3,644.4 L539.1,649.2 L542.2,654.3 L545.3,658.9" fill="none" stroke="#1b74cf" stroke-width="2.0" stroke-linecap="round" stroke-linejoin="round"/>
<path d="M639.2,637.0 L632.6,640.8 L630.3,648.5 L627.6,653.8 L622.4,656.4 L620.1,662.3" fill="none" stroke="#1b74cf" stroke-width="1.5" stroke-linecap="round" stroke-linejoin="round"/>
<path d="M462.2,657.9 L469.5,660.5 L476.9,664.4 L482.6,665.0 L486.8,663.4 L494.8,663.7 L502.8,662.9 L508.1,665.0" fill="none" stroke="#1b74cf" stroke-width="1.5" stroke-linecap="round" stroke-linejoin="round"/>
<path d="M560.9,641.0 L562.4,645.9 L564.1,650.0 L562.7,655.5 L563.9,663.5" fill="none" stroke="#1b74cf" stroke-width="1.5" stroke-linecap="round" stroke-linejoin="round"/>
<path d="M597.8,637.9 L602.4,643.4 L605.9,648.3 L610.1,652.4" fill="none" stroke="#1b74cf" stroke-width="1.5" stroke-linecap="round" stroke-linejoin="round"/>
<path d="M501.6,539.8 L505.1,545.7 L506.8,553.6 L508.1,559.1 L511.9,564.8 L513.1,569.3 L511.9,576.7" fill="none" stroke="#1b74cf" stroke-width="2.0" stroke-linecap="round" stroke-linejoin="round"/>
<path d="M612.7,634.0 L613.3,642.0 L617.2,647.8 L616.3,652.6" fill="none" stroke="#1b74cf" stroke-width="2.5" stroke-linecap="round" stroke-linejoin="round"/>
<path d="M582.5,689.2 L583.0,697.6 L586.2,702.0" fill="none" stroke="#1b74cf" stroke-width="1.5" stroke-linecap="round" stroke-linejoin="round"/>
<path d="M433.3,604.8 L436.5,611.4 L440.5,615.6 L441.2,622.2 L441.1,630.6" fill="none" stroke="#1b74cf" stroke-width="3.0" stroke-linecap="round" stroke-linejoin="round"/>
<path d="M516.3,619.5 L519.6,626.2 L526.4,630.6 L533.2,633.8 L540.8,634.4 L545.4,638.0 L548.4,644.6 L550.9,647.8" fill="none" stroke="#1b74cf" stroke-width="3.0" stroke-linecap="round" stroke-linejoin="round"/>
<path d="M481.4,606.1 L484.0,609.5 L487.1,615.0 L490.2,619.7 L495.1,624.2" fill="none" stroke="#1b74cf" stroke-width="3.0" stroke-linecap="round" stroke-linejoin="round"/>
<path d="M586.2,644.9 L581.8,649.9 L580.6,656.7 L578.4,663.5 L575.8,670.8" fill="none" stroke="#1b74cf" stroke-width="2.5" stroke-linecap="round" stroke-linejoin="round"/>
<path d="M473.9,551.5 L479.6,556.3 L484.5,557.3 L491.7,558.5" fill="none" stroke="#1b74cf" stroke-width="2.5" stroke-linecap="round" stroke-linejoin="round"/>
<path d="M490.8,651.7 L491.6,656.3 L488.5,664.4 L488.2,671.6" fill="none" stroke="#1b74cf" stroke-width="2.5" stroke-linecap="round" stroke-linejoin="round"/>
<path d="M551.5,640.5 L544.3,643.5 L540.3,644.4 L533.5,648.4 L527.9,650.0 L523.1,653.3" fill="none" stroke="#1b74cf" stroke-width="2.0" stroke-linecap="round" stroke-linejoin="round"/>
<path d="M537.7,642.0 L543.2,647.5 L545.0,654.8 L546.1,659.8 L546.4,668.3 L548.3,672.3 L548.2,677.0 L550.3,683.4" fill="none" stroke="#1b74cf" stroke-width="1.5" stroke-linecap="round" stroke-linejoin="round"/>
<path d="M538.6,642.8 L542.2,649.0 L547.1,655.1 L550.3,660.5 L553.7,663.5 L555.4,671.2 L560.4,676.6 L563.5,682.6" fill="none" stroke="#1b74cf" stroke-width="3.0" stroke-linecap="round" stroke-linejoin="round"/>
<path d="M542.1,562.8 L546.2,566.5 L547.6,574.3 L547.9,579.7" fill="none" stroke="#1b74cf" stroke-width="1.5" stroke-linecap="round" stroke-linejoin="round"/>
<path d="M570.3,661.1 L575.9,665.6 L583.6,667.3 L587.0,670.1" fill="none" stroke="#1b74cf" stroke-width="2.5" stroke-linecap="round" stroke-linejoin="round"/>
<path d="M498.0,601.9 L501.0,606.9 L500.2,611.9 L497.6,616.0 L495.2,622.7 L489.4,627.6 L485.8,632.4 L481.8,636.1" fill="none" stroke="#1b74cf" stroke-width="2.5" stroke-linecap="round" stroke-linejoin="round"/>
<path d="M365.9,545.2 L367.6,553.3 L371.3,558.7 L373.7,565.6 L376.4,569.7 L377.0,577.4 L379.8,584.4 L381.6,590.3" fill="none" stroke="#1b74cf" stroke-width="2.0" stroke-linecap="round" stroke-linejoin="round"/>
<path d="M609.9,551.5 L613.9,554.5 L620.0,556.2 L624.9,557.7 L629.0,561.5 L634.9,561.2 L642.1,563.2" fill="none" stroke="#1b74cf" stroke-width="2.0" stroke-linecap="round" stroke-linejoin="round"/>
<path d="M583.2,642.1 L580.1,647.3 L575.6,654.3 L572.2,661.0 L570.0,667.9 L563.8,672.6" fill="none" stroke="#1b74cf" stroke-width="3.0" stroke-linecap="round" stroke-linejoin="round"/>
<path d="M600.6,639.3 L607.5,640.5 L615.3,641.8 L620.3,643.8 L627.1,645.5 L634.7,647.8 L640.8,651.6" fill="none" stroke="#1b74cf" stroke-width="2.5" stroke-linecap="round" stroke-linejoin="round"/>
<path d="M625.6,607.4 L628.4,613.5 L630.1,620.0 L632.9,624.8 L633.4,632.6 L638.1,637.5" fill="none" stroke="#1b74cf" stroke-width="2.5" stroke-linecap="round" stroke-linejoin="round"/>
<path d="M478.1,643.0 L482.2,650.4 L484.7,657.4 L487.8,661.0" fill="none" stroke="#1b74cf" stroke-width="2.5" stroke-linecap="round" stroke-linejoin="round"/>
<path d="M579.1,665.2 L584.7,668.6 L589.0,675.3 L594.6,681.5 L598.3,687.1 L599.0,694.5 L598.2,701.9" fill="none" stroke="#1b74cf" stroke-width="2.5" stroke-linecap="round" stroke-linejoin="round"/>
<path d="M460.3,634.3 L460.9,642.7 L463.7,647.8 L469.7,650.6 L472.9,655.6 L475.8,660.2 L480.2,664.4" fill="none" stroke="#1b74cf" stroke-width="1.5" stroke-linecap="round" stroke-linejoin="round"/>
<path d="M614.6,613.3 L617.9,616.6 L619.9,621.0 L624.1,626.9 L628.9,631.5" fill="none" stroke="#1b74cf" stroke-width="2.5" stroke-linecap="round" stroke-linejoin="round"/>
<path d="M615.7,643.5 L618.1,648.0 L621.9,653.6 L626.3,658.0 L627.6,662.8 L630.0,666.6 L636.0,672.3 L638.3,677.8" fill="none" stroke="#1b74cf" stroke-width="1.5" stroke-linecap="round" stroke-linejoin="round"/>
<path d="M545.7,572.1 L544.1,577.1 L545.5,582.7 L547.0,591.3 L545.9,596.2" fill="none" stroke="#1b74cf" stroke-width="2.5" stroke-linecap="round" stroke-linejoin="round"/>
<path d="M471.9,614.4 L470.8,618.5 L467.0,624.8 L466.3,631.5" fill="none" stroke="#1b74cf" stroke-width="2.5" stroke-linecap="round" stroke-linejoin="round"/>
<path d="M465.5,533.5 L466.8,537.5 L467.8,542.3 L467.4,548.4 L471.0,552.1 L471.0,557.6 L468.7,562.4 L469.9,568.9" fill="none" stroke="#1b74cf" stroke-width="2.0" stroke-linecap="round" stroke-linejoin="round"/>
<path d="M556.2,584.7 L562.3,590.0 L569.5,592.6 L575.8,591.7 L582.0,591.9 L590.6,593.9 L595.2,593.3" fill="none" stroke="#1b74cf" stroke-width="2.5" stroke-linecap="round" stroke-linejoin="round"/>
<path d="M436.9,617.3 L432.0,621.6 L427.6,624.2 L422.0,627.9 L414.2,631.1" fill="none" stroke="#1b74cf" stroke-width="1.5" stroke-linecap="round" stroke-linejoin="round"/>
<path d="M553.6,627.1 L554.9,633.5 L558.6,638.8 L563.8,642.1 L566.1,648.8 L567.6,654.5 L566.7,662.4 L565.7,666.6" fill="none" stroke="#1b74cf" stroke-width="2.5" stroke-linecap="round" stroke-linejoin="round"/>
<path d="M635.1,644.0 L632.4,647.6 L626.2,651.5 L621.9,655.6 L617.2,658.2 L611.7,659.3 L604.7,663.8 L599.5,665.1" fill="none" stroke="#1b74cf" stroke-width="2.0" stroke-linecap="round" stroke-linejoin="round"/>
<path d="M571.6,689.4 L573.6,694.2 L578.1,700.7" fill="none" stroke="#1b74cf" stroke-width="3.0" stroke-linecap="round" stroke-linejoin="round"/>
<path d="M461.7,616.4 L460.1,622.8 L456.6,627.9 L456.0,632.0 L457.0,636.4" fill="none" stroke="#1b74cf" stroke-width="1.5" stroke-linecap="round" stroke-linejoin="round"/>
<path d="M519.2,620.9 L524.5,627.1 L526.8,632.2 L530.5,635.5 L534.6,637.1 L539.5,642.6" fill="none" stroke="#1b74cf" stroke-width="2.5" stroke-linecap="round" stroke-linejoin="round"/>
<path d="M528.5,583.2 L533.3,588.3 L535.1,594.0 L536.5,602.5" fill="none" stroke="#1b74cf" stroke-width="2.0" stroke-linecap="round" stroke-linejoin="round"/>
<path d="M581.9,645.3 L586.4,647.5 L591.4,651.6 L596.0,655.2 L599.9,658.3 L603.6,661.7 L610.8,662.7" fill="none" stroke="#1b74cf" stroke-width="3.0" stroke-linecap="round" stroke-linejoin="round"/>
<path d="M604.7,680.9 L603.3,684.9 L605.9,690.3 L608.5,695.0" fill="none" stroke="#1b74cf" stroke-width="1.5" stroke-linecap="round" stroke-linejoin="round"/>
<path d="M477.4,553.3 L481.3,557.1 L489.1,559.0 L491.4,566.1 L493.2,572.1 L496.3,576.1" fill="none" stroke="#1b74cf" stroke-width="2.0" stroke-linecap="round" stroke-linejoin="round"/>
<path d="M455.5,532.1 L459.3,535.3 L463.3,538.6 L465.9,543.3 L471.0,548.9 L473.5,556.3 L476.6,561.8 L479.3,566.4" fill="none" stroke="#1b74cf" stroke-width="2.0" stroke-linecap="round" stroke-linejoin="round"/>
<path d="M434.3,541.2 L437.6,546.5 L436.6,550.9 L436.9,559.0" fill="none" stroke="#1b74cf" stroke-width="3.0" stroke-linecap="round" stroke-linejoin="round"/>
<path d="M568.4,556.2 L564.0,559.9 L557.3,561.9 L553.6,567.2 L552.0,572.9 L552.7,581.1 L556.2,587.8" fill="none" stroke="#1b74cf" stroke-width="2.5" stroke-linecap="round" stroke-linejoin="round"/>
<path d="M624.8,581.5 L622.3,589.4 L618.3,593.2 L615.0,600.7 L608.1,605.4 L603.9,606.8 L595.8,605.0 L588.9,603.5" fill="none" stroke="#1b74cf" stroke-width="3.0" stroke-linecap="round" stroke-linejoin="round"/>
<path d="M481.6,604.6 L483.0,613.1 L483.2,621.5 L481.4,628.0 L480.1,633.3 L478.3,640.3 L478.9,646.4" fill="none" stroke="#1b74cf" stroke-width="2.5" stroke-linecap="round" stroke-linejoin="round"/>
<path d="M628.6,561.4 L633.6,567.5 L637.4,571.9 L640.6,575.3" fill="none" stroke="#1b74cf" stroke-width="2.0" stroke-linecap="round" stroke-linejoin="round"/>
<path d="M440.6,552.6 L441.0,559.5 L440.5,567.0 L440.0,574.0 L439.9,579.2 L441.9,584.9" fill="none" stroke="#1b74cf" stroke-width="2.0" stroke-linecap="round" stroke-linejoin="round"/>
<path d="M426.4,614.9 L426.6,619.7 L431.0,625.0 L436.2,627.9 L439.5,631.4" fill="none" stroke="#1b74cf" stroke-width="3.0" stroke-linecap="round" stroke-linejoin="round"/>
<path d="M601.7,687.5 L601.2,693.5 L600.3,699.4" fill="none" stroke="#1b74cf" stroke-width="2.0" stroke-linecap="round" stroke-linejoin="round"/>
<path d="M438.0,627.8 L440.3,633.0 L444.2,638.7 L445.9,645.7" fill="none" stroke="#1b74cf" stroke-width="2.5" stroke-linecap="round" stroke-linejoin="round"/>
<path d="M511.1,663.8 L510.6,669.5 L506.4,673.7" fill="none" stroke="#1b74cf" stroke-width="1.5" stroke-linecap="round" stroke-linejoin="round"/>
<path d="M443.8,610.9 L445.3,618.1 L447.3,624.7 L451.7,631.0 L453.9,636.1 L457.9,641.7 L459.4,648.0" fill="none" stroke="#1b74cf" stroke-width="1.5" stroke-linecap="round" stroke-linejoin="round"/>
<path d="M483.6,628.4 L480.6,632.7 L478.2,637.3 L476.9,642.7 L477.0,649.2 L473.1,654.8 L469.0,659.7" fill="none" stroke="#1b74cf" stroke-width="3.0" stroke-linecap="round" stroke-linejoin="round"/>
<path d="M537.9,647.9 L544.7,649.5 L552.8,650.8 L557.4,653.2" fill="none" stroke="#1b74cf" stroke-width="2.0" stroke-linecap="round" stroke-linejoin="round"/>
<path d="M515.7,557.1 L516.1,563.2 L518.5,569.9 L522.3,572.5 L529.0,576.5 L531.4,579.9 L532.9,587.2 L535.0,592.0" fill="none" stroke="#1b74cf" stroke-width="2.5" stroke-linecap="round" stroke-linejoin="round"/>
<path d="M524.0,573.6 L525.1,580.4 L522.5,586.9 L521.9,595.5" fill="none" stroke="#1b74cf" stroke-width="3.0" stroke-linecap="round" stroke-linejoin="round"/>
<path d="M601.3,566.8 L601.8,575.7 L605.8,581.8 L608.6,587.2 L609.6,595.3 L612.8,599.7 L620.9,601.1 L626.6,601.8" fill="none" stroke="#1b74cf" stroke-width="1.5" stroke-linecap="round" stroke-linejoin="round"/>
<path d="M454.1,633.7 L457.3,639.0 L461.7,642.8 L469.5,643.9 L474.3,642.4 L481.1,643.1" fill="none" stroke="#1b74cf" stroke-width="3.0" stroke-linecap="round" stroke-linejoin="round"/>
<path d="M584.3,552.0 L588.4,556.4 L588.0,561.6 L588.0,569.1 L590.4,575.7 L592.7,582.1 L598.7,585.3" fill="none" stroke="#1b74cf" stroke-width="3.0" stroke-linecap="round" stroke-linejoin="round"/>
<path d="M504.3,612.1 L509.3,615.7 L516.6,617.6 L520.8,620.4 L522.9,628.0 L523.8,632.9 L523.1,638.3" fill="none" stroke="#1b74cf" stroke-width="2.0" stroke-linecap="round" stroke-linejoin="round"/>
<path d="M590.5,583.5 L590.3,591.8 L592.6,595.6 L594.1,601.3 L596.3,608.4 L601.1,613.1 L603.3,617.2" fill="none" stroke="#1b74cf" stroke-width="2.0" stroke-linecap="round" stroke-linejoin="round"/>
<path d="M617.7,650.1 L622.4,651.3 L628.3,651.2 L635.3,650.1 L642.0,651.4" fill="none" stroke="#1b74cf" stroke-width="1.5" stroke-linecap="round" stroke-linejoin="round"/>
<path d="M595.5,658.6 L595.1,663.8 L598.2,668.4 L597.3,672.8 L595.3,680.1 L591.6,683.4 L585.7,685.7 L578.0,686.1" fill="none" stroke="#1b74cf" stroke-width="2.0" stroke-linecap="round" stroke-linejoin="round"/>
<path d="M537.0,594.2 L540.7,601.3 L547.5,603.4 L553.4,607.0 L559.4,612.3" fill="none" stroke="#1b74cf" stroke-width="2.0" stroke-linecap="round" stroke-linejoin="round"/>
<path d="M513.1,553.9 L517.0,557.4 L524.3,559.1 L529.5,558.5 L538.1,557.6 L545.8,555.8" fill="none" stroke="#1b74cf" stroke-width="2.5" stroke-linecap="round" stroke-linejoin="round"/>
<path d="M518.6,570.5 L520.3,578.8 L520.0,583.9 L518.9,590.1 L521.3,595.4" fill="none" stroke="#1b74cf" stroke-width="2.0" stroke-linecap="round" stroke-linejoin="round"/>
<path d="M390.1,565.6 L394.4,568.9 L398.4,570.9 L402.2,574.7 L405.2,578.8 L408.0,583.2 L409.6,591.1" fill="none" stroke="#1b74cf" stroke-width="2.0" stroke-linecap="round" stroke-linejoin="round"/>
<path d="M541.6,629.0 L544.1,635.4 L549.7,637.1 L558.3,638.6 L563.9,641.6 L567.0,647.4" fill="none" stroke="#1b74cf" stroke-width="2.5" stroke-linecap="round" stroke-linejoin="round"/>
<path d="M466.4,632.9 L472.6,638.6 L476.4,640.7 L482.1,647.4 L485.3,650.7 L491.5,656.0" fill="none" stroke="#1b74cf" stroke-width="2.5" stroke-linecap="round" stroke-linejoin="round"/>
<path d="M529.7,628.8 L534.8,633.0 L536.4,639.3 L539.4,642.9 L542.6,648.9" fill="none" stroke="#1b74cf" stroke-width="2.0" stroke-linecap="round" stroke-linejoin="round"/>
<path d="M586.9,638.5 L584.3,644.1 L581.1,648.4 L578.8,652.5" fill="none" stroke="#1b74cf" stroke-width="3.0" stroke-linecap="round" stroke-linejoin="round"/>
<path d="M588.5,647.9 L589.3,653.7 L589.0,662.0 L588.2,670.2 L590.0,677.5 L594.3,682.8" fill="none" stroke="#1b74cf" stroke-width="1.5" stroke-linecap="round" stroke-linejoin="round"/>
<path d="M626.4,575.8 L629.7,582.6 L636.4,585.1 L640.8,589.0" fill="none" stroke="#1b74cf" stroke-width="2.0" stroke-linecap="round" stroke-linejoin="round"/>
<path d="M488.8,611.8 L492.5,618.7 L495.3,623.1 L497.5,630.8 L496.1,639.5 L494.8,646.7 L492.5,651.5 L491.4,657.2" fill="none" stroke="#1b74cf" stroke-width="2.5" stroke-linecap="round" stroke-linejoin="round"/>
<path d="M534.3,584.6 L538.0,590.3 L541.6,595.7 L550.5,596.5" fill="none" stroke="#1b74cf" stroke-width="2.5" stroke-linecap="round" stroke-linejoin="round"/>
<path d="M459.4,577.2 L458.0,582.8 L453.2,589.1 L453.0,593.6" fill="none" stroke="#1b74cf" stroke-width="2.5" stroke-linecap="round" stroke-linejoin="round"/>
<path d="M514.5,663.9 L519.0,666.4 L523.7,669.7 L528.1,671.7 L534.8,670.9" fill="none" stroke="#1b74cf" stroke-width="2.0" stroke-linecap="round" stroke-linejoin="round"/>
<path d="M553.7,579.9 L556.2,587.5 L555.4,593.1 L556.8,601.3 L556.2,606.1 L552.5,611.3" fill="none" stroke="#1b74cf" stroke-width="2.0" stroke-linecap="round" stroke-linejoin="round"/>
<path d="M598.6,582.4 L596.9,590.5 L595.2,594.9 L593.5,601.5 L592.8,605.5 L591.5,609.5" fill="none" stroke="#1b74cf" stroke-width="3.0" stroke-linecap="round" stroke-linejoin="round"/>
<path d="M549.1,558.4 L553.4,563.9 L560.1,567.7 L562.7,571.8 L567.1,575.2 L569.8,580.1" fill="none" stroke="#1b74cf" stroke-width="2.5" stroke-linecap="round" stroke-linejoin="round"/>
<path d="M455.7,576.3 L459.5,581.9 L463.8,588.7 L468.0,595.6 L467.7,600.6 L463.8,605.8 L460.5,613.6 L458.1,620.2" fill="none" stroke="#1b74cf" stroke-width="2.0" stroke-linecap="round" stroke-linejoin="round"/>
<path d="M430.3,617.9 L434.8,621.3 L439.7,624.1 L447.5,627.5 L453.9,633.0 L458.1,637.3" fill="none" stroke="#1b74cf" stroke-width="2.5" stroke-linecap="round" stroke-linejoin="round"/>
<path d="M513.8,655.0 L519.7,656.2 L527.4,658.7 L535.1,658.6" fill="none" stroke="#1b74cf" stroke-width="3.0" stroke-linecap="round" stroke-linejoin="round"/>
<path d="M588.4,678.3 L591.8,685.5 L594.8,690.2 L599.0,696.3" fill="none" stroke="#1b74cf" stroke-width="3.0" stroke-linecap="round" stroke-linejoin="round"/>
<path d="M473.8,639.2 L474.1,646.2 L471.7,652.0 L465.7,654.9 L461.7,659.5" fill="none" stroke="#1b74cf" stroke-width="2.0" stroke-linecap="round" stroke-linejoin="round"/>
<path d="M418.5,609.5 L423.2,614.4 L427.9,619.7 L434.1,622.9 L438.9,629.2 L445.0,634.7" fill="none" stroke="#1b74cf" stroke-width="1.5" stroke-linecap="round" stroke-linejoin="round"/>
<path d="M487.3,559.6 L487.0,565.9 L484.8,571.5 L480.9,576.5 L479.3,580.8 L480.4,587.5" fill="none" stroke="#1b74cf" stroke-width="1.5" stroke-linecap="round" stroke-linejoin="round"/>
<path d="M462.5,533.9 L463.7,541.3 L466.0,546.2 L464.1,552.0 L465.1,556.1" fill="none" stroke="#1b74cf" stroke-width="1.5" stroke-linecap="round" stroke-linejoin="round"/>
<path d="M587.7,685.8 L592.7,690.3 L599.4,693.6 L603.4,692.3" fill="none" stroke="#1b74cf" stroke-width="1.5" stroke-linecap="round" stroke-linejoin="round"/>
<path d="M451.3,588.8 L455.7,592.5 L458.0,597.6 L457.7,603.0 L458.7,611.3 L462.8,617.2 L466.9,623.9" fill="none" stroke="#1b74cf" stroke-width="2.0" stroke-linecap="round" stroke-linejoin="round"/>
<path d="M562.0,679.5 L563.6,683.6 L564.6,689.7 L567.2,696.6 L573.8,699.4" fill="none" stroke="#1b74cf" stroke-width="2.5" stroke-linecap="round" stroke-linejoin="round"/>
<path d="M480.3,539.8 L483.8,543.6 L490.2,547.4 L498.5,550.4 L502.8,553.4 L506.8,554.9 L512.4,557.4 L516.4,558.9" fill="none" stroke="#1b74cf" stroke-width="1.5" stroke-linecap="round" stroke-linejoin="round"/>
<path d="M544.1,612.4 L536.9,616.3 L532.5,620.1 L526.6,620.6 L522.0,622.4 L517.1,628.7 L514.0,633.9" fill="none" stroke="#1b74cf" stroke-width="2.0" stroke-linecap="round" stroke-linejoin="round"/>
<path d="M427.1,543.7 L431.0,547.5 L432.4,554.5" fill="none" stroke="#1b74cf" stroke-width="1.5" stroke-linecap="round" stroke-linejoin="round"/>
<path d="M600.9,605.6 L599.3,613.2 L598.8,619.1 L598.0,626.5 L598.8,633.1 L601.9,637.9 L601.5,645.5" fill="none" stroke="#1b74cf" stroke-width="1.5" stroke-linecap="round" stroke-linejoin="round"/>
<path d="M506.9,599.0 L504.6,605.2 L501.6,610.0 L501.8,616.3" fill="none" stroke="#1b74cf" stroke-width="2.0" stroke-linecap="round" stroke-linejoin="round"/>
<path d="M540.5,668.7 L545.0,673.9 L550.1,678.0 L555.4,681.1" fill="none" stroke="#1b74cf" stroke-width="3.0" stroke-linecap="round" stroke-linejoin="round"/>
<path d="M507.0,564.4 L513.1,565.4 L520.2,567.2 L523.9,569.1 L530.6,571.9 L537.9,574.0 L541.4,576.6" fill="none" stroke="#1b74cf" stroke-width="1.5" stroke-linecap="round" stroke-linejoin="round"/>
<path d="M526.3,565.2 L525.8,571.3 L524.9,575.7 L527.6,580.9 L527.4,588.5 L527.9,596.2" fill="none" stroke="#1b74cf" stroke-width="3.0" stroke-linecap="round" stroke-linejoin="round"/>
<path d="M633.9,589.9 L631.0,594.2 L626.6,601.4 L624.1,605.6 L620.3,608.7 L615.5,613.9" fill="none" stroke="#1b74cf" stroke-width="2.0" stroke-linecap="round" stroke-linejoin="round"/>
<path d="M541.2,661.6 L541.4,667.8 L538.8,671.4 L536.8,678.4 L537.5,683.3 L538.4,688.8" fill="none" stroke="#1b74cf" stroke-width="2.0" stroke-linecap="round" stroke-linejoin="round"/>
<path d="M603.6,613.6 L609.5,614.5 L614.7,616.3 L617.6,621.8 L620.0,626.7 L622.1,632.3 L621.5,637.8 L622.8,643.8" fill="none" stroke="#1b74cf" stroke-width="2.0" stroke-linecap="round" stroke-linejoin="round"/>
<path d="M511.9,564.9 L515.9,571.3 L517.0,579.7 L519.5,586.6 L521.2,590.6 L527.2,596.5 L532.1,598.0 L537.1,597.0" fill="none" stroke="#1b74cf" stroke-width="2.5" stroke-linecap="round" stroke-linejoin="round"/>
<path d="M532.0,584.9 L538.2,585.9 L545.7,584.1 L550.4,581.5 L558.2,580.0" fill="none" stroke="#1b74cf" stroke-width="2.5" stroke-linecap="round" stroke-linejoin="round"/>
<path d="M550.0,638.4 L548.5,646.6 L548.7,651.0 L546.2,656.9 L543.7,664.4 L540.5,667.6 L537.1,672.3 L533.7,677.5" fill="none" stroke="#1b74cf" stroke-width="1.5" stroke-linecap="round" stroke-linejoin="round"/>
<path d="M449.2,615.7 L454.8,619.1 L458.1,624.7 L462.9,628.8 L469.4,630.0 L476.9,631.5" fill="none" stroke="#1b74cf" stroke-width="2.0" stroke-linecap="round" stroke-linejoin="round"/>
<path d="M611.1,685.7 L613.3,689.9 L617.0,696.0" fill="none" stroke="#1b74cf" stroke-width="2.5" stroke-linecap="round" stroke-linejoin="round"/>
<path d="M633.2,572.7 L637.2,577.3 L642.0,579.9" fill="none" stroke="#1b74cf" stroke-width="2.5" stroke-linecap="round" stroke-linejoin="round"/>
<path d="M487.9,652.7 L490.2,656.2 L493.1,662.8 L497.7,666.4 L500.1,671.9 L500.6,675.9" fill="none" stroke="#1b74cf" stroke-width="1.5" stroke-linecap="round" stroke-linejoin="round"/>
<path d="M432.9,525.4 L438.2,528.8 L444.7,530.3 L453.4,530.5 L462.3,531.5 L468.4,533.4" fill="none" stroke="#1b74cf" stroke-width="1.5" stroke-linecap="round" stroke-linejoin="round"/>
<path d="M583.4,643.7 L587.0,649.1 L588.4,656.0 L592.9,659.5 L595.4,664.1" fill="none" stroke="#1b74cf" stroke-width="1.5" stroke-linecap="round" stroke-linejoin="round"/>
<path d="M578.6,606.2 L581.5,610.2 L582.8,618.1 L585.7,624.0" fill="none" stroke="#1b74cf" stroke-width="1.5" stroke-linecap="round" stroke-linejoin="round"/>
<path d="M625.6,586.1 L627.7,590.7 L627.4,595.7 L623.4,602.1 L623.3,610.5" fill="none" stroke="#1b74cf" stroke-width="1.5" stroke-linecap="round" stroke-linejoin="round"/>
<path d="M462.5,586.0 L467.4,591.1 L469.5,596.1 L470.0,600.4 L471.0,607.7 L474.0,613.9" fill="none" stroke="#1b74cf" stroke-width="2.0" stroke-linecap="round" stroke-linejoin="round"/>
<path d="M624.8,606.2 L627.9,610.1 L628.6,617.8 L626.9,624.4 L623.6,630.7 L616.9,633.3 L611.4,636.3 L605.8,636.9" fill="none" stroke="#1b74cf" stroke-width="2.5" stroke-linecap="round" stroke-linejoin="round"/>
<path d="M549.4,661.6 L551.2,667.4 L555.2,671.4 L561.6,673.9 L566.6,675.1 L572.3,678.4 L577.6,679.3" fill="none" stroke="#1b74cf" stroke-width="2.5" stroke-linecap="round" stroke-linejoin="round"/>
<path d="M484.2,635.6 L490.2,639.8 L494.2,642.5 L501.6,645.7" fill="none" stroke="#1b74cf" stroke-width="2.5" stroke-linecap="round" stroke-linejoin="round"/>
<path d="M631.3,565.6 L629.0,573.4 L624.3,575.9 L619.9,577.1 L612.7,578.3 L603.8,577.9 L597.0,576.2 L592.9,572.3" fill="none" stroke="#1b74cf" stroke-width="1.5" stroke-linecap="round" stroke-linejoin="round"/>
<path d="M504.7,570.1 L506.6,577.2 L504.4,581.4 L501.5,588.1 L502.6,596.4 L505.9,601.0" fill="none" stroke="#1b74cf" stroke-width="2.0" stroke-linecap="round" stroke-linejoin="round"/>
<path d="M531.0,595.5 L528.7,600.0 L526.0,603.9 L524.1,610.9" fill="none" stroke="#1b74cf" stroke-width="3.0" stroke-linecap="round" stroke-linejoin="round"/>
<path d="M441.4,612.4 L437.1,618.7 L433.6,625.6 L430.4,629.5 L424.9,635.4" fill="none" stroke="#1b74cf" stroke-width="2.5" stroke-linecap="round" stroke-linejoin="round"/>
<path d="M447.3,514.9 L444.7,519.6 L440.3,522.2 L436.4,525.0 L431.8,530.6 L429.0,537.6" fill="none" stroke="#1b74cf" stroke-width="1.5" stroke-linecap="round" stroke-linejoin="round"/>
<path d="M486.5,670.6 L491.9,670.4 L500.0,671.3 L505.6,668.7 L512.7,664.8 L516.4,661.5" fill="none" stroke="#1b74cf" stroke-width="1.5" stroke-linecap="round" stroke-linejoin="round"/>
<path d="M509.8,643.0 L512.8,646.5 L517.0,652.8 L522.0,656.3 L527.7,661.8 L532.7,667.6" fill="none" stroke="#1b74cf" stroke-width="2.5" stroke-linecap="round" stroke-linejoin="round"/>
<path d="M569.4,572.2 L568.6,580.4 L567.3,587.6 L564.3,592.0 L563.3,598.4 L559.2,604.1" fill="none" stroke="#1b74cf" stroke-width="2.0" stroke-linecap="round" stroke-linejoin="round"/>
<path d="M473.3,618.3 L477.1,624.9 L481.4,632.2 L483.4,639.3 L482.3,646.6" fill="none" stroke="#1b74cf" stroke-width="2.5" stroke-linecap="round" stroke-linejoin="round"/>
<path d="M558.4,626.0 L558.6,633.0 L556.1,638.2 L551.6,641.9 L551.8,646.5 L549.2,651.9 L544.6,656.2 L537.7,657.2" fill="none" stroke="#1b74cf" stroke-width="1.5" stroke-linecap="round" stroke-linejoin="round"/>
<path d="M491.4,600.4 L489.0,605.2 L485.5,610.1 L479.6,614.0 L476.6,620.3 L474.3,628.3" fill="none" stroke="#1b74cf" stroke-width="3.0" stroke-linecap="round" stroke-linejoin="round"/>
<path d="M436.4,522.0 L437.1,529.3 L435.6,534.8 L432.8,539.7 L429.0,544.8" fill="none" stroke="#1b74cf" stroke-width="2.0" stroke-linecap="round" stroke-linejoin="round"/>
<path d="M583.0,651.9 L584.0,660.5 L582.8,664.7 L583.6,672.9 L583.1,678.2 L583.7,685.3" fill="none" stroke="#1b74cf" stroke-width="3.0" stroke-linecap="round" stroke-linejoin="round"/>
<path d="M454.6,567.6 L455.7,572.5 L457.6,580.1 L459.5,588.8 L461.8,594.5 L461.1,599.1 L463.6,605.1 L466.1,611.6" fill="none" stroke="#1b74cf" stroke-width="3.0" stroke-linecap="round" stroke-linejoin="round"/>
<path d="M581.8,596.4 L584.7,600.6 L589.2,606.0 L591.2,610.8 L590.6,615.3 L589.7,620.2 L588.6,627.3 L586.2,631.3" fill="none" stroke="#1b74cf" stroke-width="3.0" stroke-linecap="round" stroke-linejoin="round"/>
<path d="M492.3,583.8 L494.9,591.5 L496.2,597.7 L499.3,605.0 L499.2,611.8" fill="none" stroke="#1b74cf" stroke-width="3.0" stroke-linecap="round" stroke-linejoin="round"/>
<path d="M568.3,633.0 L569.5,637.1 L574.3,641.3 L577.6,648.0 L576.9,652.7" fill="none" stroke="#1b74cf" stroke-width="2.0" stroke-linecap="round" stroke-linejoin="round"/>
<path d="M582.0,681.1 L587.7,685.8 L591.7,692.3 L595.6,695.1" fill="none" stroke="#1b74cf" stroke-width="2.0" stroke-linecap="round" stroke-linejoin="round"/>
<path d="M441.3,583.1 L448.8,586.4 L453.1,588.9 L459.2,588.9 L464.9,592.1" fill="none" stroke="#1b74cf" stroke-width="2.5" stroke-linecap="round" stroke-linejoin="round"/>
<path d="M599.9,672.9 L606.7,675.1 L613.9,679.8 L618.2,679.9 L625.0,681.7 L630.9,683.2" fill="none" stroke="#1b74cf" stroke-width="2.5" stroke-linecap="round" stroke-linejoin="round"/>
<path d="M484.1,644.7 L487.8,648.4 L495.6,651.7 L502.1,655.0 L506.2,660.4 L512.8,661.3" fill="none" stroke="#1b74cf" stroke-width="2.0" stroke-linecap="round" stroke-linejoin="round"/>
<path d="M513.1,575.2 L513.5,581.8 L517.6,586.6 L519.7,592.8 L518.8,599.4" fill="none" stroke="#1b74cf" stroke-width="2.0" stroke-linecap="round" stroke-linejoin="round"/>
<path d="M543.2,611.3 L536.8,614.3 L534.4,622.0 L535.1,629.5 L533.0,635.1 L528.2,641.0 L523.8,643.9 L520.8,648.5" fill="none" stroke="#1b74cf" stroke-width="2.5" stroke-linecap="round" stroke-linejoin="round"/>
<path d="M541.3,621.7 L545.5,624.6 L549.5,625.6 L553.9,624.0" fill="none" stroke="#1b74cf" stroke-width="3.0" stroke-linecap="round" stroke-linejoin="round"/>
<path d="M633.9,640.9 L635.8,645.9 L639.6,651.2 L640.8,659.6" fill="none" stroke="#1b74cf" stroke-width="1.5" stroke-linecap="round" stroke-linejoin="round"/>
<path d="M601.4,663.8 L606.3,663.9 L613.0,661.2 L617.8,660.2 L624.6,656.4 L630.6,653.9 L632.6,646.8 L633.3,641.0" fill="none" stroke="#1b74cf" stroke-width="2.0" stroke-linecap="round" stroke-linejoin="round"/>
<path d="M582.3,554.3 L582.2,559.1 L579.3,563.0 L575.1,569.8" fill="none" stroke="#1b74cf" stroke-width="1.5" stroke-linecap="round" stroke-linejoin="round"/>
<path d="M600.8,552.1 L603.2,559.9 L605.7,564.8 L611.3,568.1" fill="none" stroke="#1b74cf" stroke-width="2.0" stroke-linecap="round" stroke-linejoin="round"/>
<path d="M461.2,597.5 L462.6,602.5 L463.4,611.1 L464.4,617.0" fill="none" stroke="#1b74cf" stroke-width="3.0" stroke-linecap="round" stroke-linejoin="round"/>
<path d="M503.6,567.1 L510.3,572.2 L518.0,574.0 L523.3,572.2 L528.7,567.7 L531.9,561.5" fill="none" stroke="#1b74cf" stroke-width="2.5" stroke-linecap="round" stroke-linejoin="round"/>
<path d="M589.0,683.7 L592.9,688.0 L597.6,691.5 L600.6,698.8" fill="none" stroke="#1b74cf" stroke-width="3.0" stroke-linecap="round" stroke-linejoin="round"/>
<path d="M602.0,577.3 L608.3,576.9 L616.5,576.2 L623.8,578.7 L628.7,579.7" fill="none" stroke="#1b74cf" stroke-width="2.5" stroke-linecap="round" stroke-linejoin="round"/>
<path d="M365.9,537.1 L369.0,544.1 L370.9,549.0 L369.7,555.2" fill="none" stroke="#1b74cf" stroke-width="3.0" stroke-linecap="round" stroke-linejoin="round"/>
<path d="M530.9,598.7 L528.6,603.7 L526.6,612.5 L527.7,620.1 L531.2,623.7" fill="none" stroke="#1b74cf" stroke-width="1.5" stroke-linecap="round" stroke-linejoin="round"/>
<path d="M591.3,661.3 L588.0,666.2 L583.2,668.8 L578.7,669.4 L573.7,672.8" fill="none" stroke="#1b74cf" stroke-width="2.5" stroke-linecap="round" stroke-linejoin="round"/>
<path d="M605.7,587.7 L600.4,592.2 L598.5,599.0 L594.9,606.5 L590.6,608.8 L583.7,609.0" fill="none" stroke="#1b74cf" stroke-width="3.0" stroke-linecap="round" stroke-linejoin="round"/>
<path d="M555.1,555.1 L560.8,560.4 L568.0,561.7 L576.6,561.9 L584.3,560.6 L590.3,562.3 L595.9,565.8 L596.5,571.8" fill="none" stroke="#1b74cf" stroke-width="2.0" stroke-linecap="round" stroke-linejoin="round"/>
<path d="M464.0,645.0 L464.1,650.1 L465.3,654.5 L467.8,658.6 L470.6,665.1" fill="none" stroke="#1b74cf" stroke-width="2.0" stroke-linecap="round" stroke-linejoin="round"/>
<path d="M408.5,600.0 L411.3,605.7 L416.6,608.8 L423.1,611.6 L431.2,613.0" fill="none" stroke="#1b74cf" stroke-width="2.5" stroke-linecap="round" stroke-linejoin="round"/>
<path d="M487.8,636.6 L485.5,642.9 L486.8,650.9 L490.1,654.7" fill="none" stroke="#1b74cf" stroke-width="3.0" stroke-linecap="round" stroke-linejoin="round"/>
<path d="M581.6,551.2 L582.7,556.7 L583.9,562.7 L585.1,566.8" fill="none" stroke="#1b74cf" stroke-width="3.0" stroke-linecap="round" stroke-linejoin="round"/>
<path d="M556.4,556.5 L560.5,561.4 L563.8,564.4 L567.5,570.3 L574.2,574.7 L581.1,575.1 L588.7,577.7 L593.1,577.8" fill="none" stroke="#1b74cf" stroke-width="2.0" stroke-linecap="round" stroke-linejoin="round"/>
<path d="M413.4,620.0 L417.0,624.5 L422.0,627.7 L424.2,632.6 L426.1,639.4" fill="none" stroke="#1b74cf" stroke-width="2.0" stroke-linecap="round" stroke-linejoin="round"/>
<path d="M546.7,556.1 L549.4,563.2 L547.6,568.7 L547.6,572.9 L547.0,577.1 L546.3,585.7 L542.7,589.8" fill="none" stroke="#1b74cf" stroke-width="3.0" stroke-linecap="round" stroke-linejoin="round"/>
<path d="M510.6,659.2 L517.8,660.9 L520.8,667.3 L521.7,671.6 L521.3,678.9 L517.7,683.8" fill="none" stroke="#1b74cf" stroke-width="2.0" stroke-linecap="round" stroke-linejoin="round"/>
<path d="M561.9,650.5 L566.6,654.8 L568.7,660.6 L572.1,667.2 L574.1,675.1" fill="none" stroke="#1b74cf" stroke-width="3.0" stroke-linecap="round" stroke-linejoin="round"/>
<path d="M488.7,613.9 L494.8,619.0 L500.3,622.9 L503.4,626.6 L504.2,634.5 L506.2,639.4 L509.8,643.7" fill="none" stroke="#1b74cf" stroke-width="2.0" stroke-linecap="round" stroke-linejoin="round"/>
<path d="M601.2,568.1 L601.9,572.4 L605.2,576.7 L607.1,580.7 L614.2,583.8 L621.8,587.4" fill="none" stroke="#1b74cf" stroke-width="2.0" stroke-linecap="round" stroke-linejoin="round"/>
<path d="M444.3,627.0 L441.3,632.0 L434.2,634.9 L426.1,634.4" fill="none" stroke="#1b74cf" stroke-width="2.0" stroke-linecap="round" stroke-linejoin="round"/>
<path d="M445.8,604.5 L450.5,608.6 L452.6,616.2 L452.2,620.9 L448.0,627.1 L445.0,633.1" fill="none" stroke="#1b74cf" stroke-width="2.5" stroke-linecap="round" stroke-linejoin="round"/>
<path d="M514.2,594.8 L513.6,599.9 L514.3,604.3 L515.7,611.9 L518.4,615.3 L520.2,621.1 L524.0,628.8" fill="none" stroke="#1b74cf" stroke-width="1.5" stroke-linecap="round" stroke-linejoin="round"/>
<path d="M446.7,629.9 L442.7,635.8 L439.2,640.2 L432.9,642.0" fill="none" stroke="#1b74cf" stroke-width="2.5" stroke-linecap="round" stroke-linejoin="round"/>
<path d="M526.4,590.2 L531.8,591.0 L535.9,594.2 L539.6,597.2" fill="none" stroke="#1b74cf" stroke-width="2.5" stroke-linecap="round" stroke-linejoin="round"/>
<path d="M626.1,650.8 L626.0,656.3 L627.3,661.2 L628.2,668.5" fill="none" stroke="#1b74cf" stroke-width="2.5" stroke-linecap="round" stroke-linejoin="round"/>
<path d="M600.3,646.2 L603.3,650.2 L608.8,652.0 L616.2,652.2 L621.1,650.1 L626.3,644.1 L630.8,641.3 L635.7,638.8" fill="none" stroke="#1b74cf" stroke-width="1.5" stroke-linecap="round" stroke-linejoin="round"/>
<path d="M626.6,592.2 L627.6,598.4 L627.9,604.1 L626.4,608.9 L627.1,615.9 L628.8,620.7 L632.6,624.3 L636.3,628.4" fill="none" stroke="#1b74cf" stroke-width="3.0" stroke-linecap="round" stroke-linejoin="round"/>
<path d="M492.5,543.6 L492.0,551.0 L488.1,555.5 L484.9,561.6 L482.7,569.0 L480.6,576.0 L476.3,580.8 L470.4,582.1" fill="none" stroke="#1b74cf" stroke-width="2.5" stroke-linecap="round" stroke-linejoin="round"/>
<path d="M443.4,614.4 L444.3,620.1 L442.4,626.9 L439.9,634.7" fill="none" stroke="#1b74cf" stroke-width="3.0" stroke-linecap="round" stroke-linejoin="round"/>
<path d="M514.6,584.3 L515.1,588.4 L516.9,594.6 L520.6,599.8 L524.0,606.4" fill="none" stroke="#1b74cf" stroke-width="2.0" stroke-linecap="round" stroke-linejoin="round"/>
<path d="M494.1,570.4 L490.4,574.6 L487.1,581.6 L483.7,586.0 L479.6,589.7 L477.3,593.5 L473.7,596.9 L472.1,604.2" fill="none" stroke="#1b74cf" stroke-width="2.5" stroke-linecap="round" stroke-linejoin="round"/>
<path d="M563.1,685.2 L563.5,693.3 L567.3,699.5" fill="none" stroke="#1b74cf" stroke-width="3.0" stroke-linecap="round" stroke-linejoin="round"/>
<path d="M444.4,521.0 L449.9,524.2 L453.5,527.3 L461.1,529.8" fill="none" stroke="#1b74cf" stroke-width="1.5" stroke-linecap="round" stroke-linejoin="round"/>
<path d="M451.1,585.5 L445.6,588.9 L443.6,594.1 L440.8,599.2" fill="none" stroke="#1b74cf" stroke-width="2.5" stroke-linecap="round" stroke-linejoin="round"/>
<path d="M618.3,615.7 L623.8,620.0 L626.3,628.2 L625.9,635.7 L627.6,642.6 L630.7,648.7 L630.3,657.1" fill="none" stroke="#1b74cf" stroke-width="2.5" stroke-linecap="round" stroke-linejoin="round"/>
<path d="M523.3,569.1 L525.4,575.5 L528.1,583.4 L526.2,591.2 L527.9,595.5 L529.9,601.5" fill="none" stroke="#1b74cf" stroke-width="2.0" stroke-linecap="round" stroke-linejoin="round"/>
<path d="M530.7,590.8 L533.8,594.9 L537.0,599.5 L538.3,605.1" fill="none" stroke="#1b74cf" stroke-width="2.0" stroke-linecap="round" stroke-linejoin="round"/>
<path d="M619.8,691.7 L615.0,695.7 L610.6,700.4 L602.7,702.2 L594.6,702.3 L586.3,701.5 L581.7,696.6 L579.2,690.9" fill="none" stroke="#1b74cf" stroke-width="2.0" stroke-linecap="round" stroke-linejoin="round"/>
<path d="M596.6,556.0 L601.4,560.2 L602.1,568.6 L602.1,576.5 L601.1,584.7" fill="none" stroke="#1b74cf" stroke-width="2.5" stroke-linecap="round" stroke-linejoin="round"/>
<path d="M618.0,664.4 L624.3,665.5 L630.8,668.6 L634.9,673.4 L638.9,676.6" fill="none" stroke="#1b74cf" stroke-width="1.5" stroke-linecap="round" stroke-linejoin="round"/>
<path d="M516.0,655.7 L511.4,661.1 L506.7,661.6 L501.5,658.4 L497.5,657.1 L492.1,658.5" fill="none" stroke="#1b74cf" stroke-width="3.0" stroke-linecap="round" stroke-linejoin="round"/>
<path d="M553.2,576.3 L559.8,578.2 L562.9,585.4 L566.6,588.1 L573.1,588.4" fill="none" stroke="#1b74cf" stroke-width="3.0" stroke-linecap="round" stroke-linejoin="round"/>
<path d="M596.2,637.2 L599.0,644.2 L602.5,647.6 L604.8,653.9" fill="none" stroke="#1b74cf" stroke-width="3.0" stroke-linecap="round" stroke-linejoin="round"/>
<path d="M614.8,621.4 L615.7,626.5 L617.6,632.8 L619.0,640.0 L621.6,644.0" fill="none" stroke="#1b74cf" stroke-width="3.0" stroke-linecap="round" stroke-linejoin="round"/>
<path d="M528.0,642.9 L527.0,651.2 L528.7,655.1 L532.0,660.2 L535.6,663.9 L536.5,670.5" fill="none" stroke="#1b74cf" stroke-width="2.0" stroke-linecap="round" stroke-linejoin="round"/>
<path d="M499.7,596.3 L502.5,602.8 L508.9,606.1 L515.2,607.1 L523.0,606.9" fill="none" stroke="#1b74cf" stroke-width="1.5" stroke-linecap="round" stroke-linejoin="round"/>
<path d="M548.9,670.2 L542.5,672.3 L540.1,677.0 L539.4,683.1 L540.3,691.7" fill="none" stroke="#1b74cf" stroke-width="2.0" stroke-linecap="round" stroke-linejoin="round"/>
<path d="M445.4,568.7 L445.2,575.2 L440.8,581.5" fill="none" stroke="#1b74cf" stroke-width="3.0" stroke-linecap="round" stroke-linejoin="round"/>
<path d="M506.6,652.9 L510.0,656.8 L513.8,661.1 L517.8,664.9 L522.0,669.1" fill="none" stroke="#1b74cf" stroke-width="2.0" stroke-linecap="round" stroke-linejoin="round"/>
<path d="M462.1,553.6 L468.1,555.4 L472.3,554.1 L476.4,549.6 L481.4,545.8" fill="none" stroke="#1b74cf" stroke-width="2.0" stroke-linecap="round" stroke-linejoin="round"/>
<path d="M518.4,593.3 L521.6,597.4 L524.1,601.3 L524.5,609.3 L523.2,616.9 L523.3,625.7 L524.7,633.4" fill="none" stroke="#1b74cf" stroke-width="2.5" stroke-linecap="round" stroke-linejoin="round"/>
<path d="M404.7,591.3 L408.3,595.4 L409.4,600.7 L414.0,604.3" fill="none" stroke="#1b74cf" stroke-width="2.0" stroke-linecap="round" stroke-linejoin="round"/>
<path d="M445.6,621.5 L451.8,627.1 L454.3,632.3 L459.5,635.7 L464.9,641.1 L469.9,644.4 L476.0,645.9 L481.1,644.4" fill="none" stroke="#1b74cf" stroke-width="3.0" stroke-linecap="round" stroke-linejoin="round"/>
<path d="M537.1,592.9 L537.1,599.6 L536.8,607.7 L539.4,612.6 L541.7,620.5" fill="none" stroke="#1b74cf" stroke-width="3.0" stroke-linecap="round" stroke-linejoin="round"/>
<path d="M560.0,594.7 L560.7,600.8 L559.6,606.5 L562.1,611.8 L565.1,618.0" fill="none" stroke="#1b74cf" stroke-width="2.5" stroke-linecap="round" stroke-linejoin="round"/>
<path d="M611.3,676.8 L613.1,684.1 L613.2,688.6 L616.3,692.5 L620.5,696.6" fill="none" stroke="#1b74cf" stroke-width="2.0" stroke-linecap="round" stroke-linejoin="round"/>
<path d="M630.5,561.6 L632.1,565.7 L632.4,569.9 L634.3,575.4 L640.4,579.6" fill="none" stroke="#1b74cf" stroke-width="1.5" stroke-linecap="round" stroke-linejoin="round"/>
<path d="M449.9,529.4 L455.3,533.7 L459.5,536.2 L463.3,540.6 L467.1,544.7" fill="none" stroke="#1b74cf" stroke-width="2.0" stroke-linecap="round" stroke-linejoin="round"/>
<path d="M563.6,671.4 L568.9,675.7 L577.5,677.8 L585.8,679.2 L591.7,676.8 L598.6,678.8 L601.8,683.1 L609.4,686.1" fill="none" stroke="#f9e000" stroke-width="1.5" stroke-linecap="round" stroke-linejoin="round"/>
<path d="M521.2,682.7 L527.4,686.1 L531.2,688.8 L536.4,688.6" fill="none" stroke="#f9e000" stroke-width="1.0" stroke-linecap="round" stroke-linejoin="round"/>
<path d="M476.1,654.2 L481.0,656.8 L486.4,658.8 L493.5,660.3" fill="none" stroke="#f9e000" stroke-width="1.5" stroke-linecap="round" stroke-linejoin="round"/>
<path d="M534.3,664.8 L539.1,670.3 L546.2,674.3 L549.4,677.6 L557.0,682.0 L559.7,686.2 L561.3,692.2" fill="none" stroke="#f9e000" stroke-width="1.5" stroke-linecap="round" stroke-linejoin="round"/>
<path d="M607.0,590.5 L612.5,592.0 L618.4,593.0 L623.4,593.7 L627.5,592.1" fill="none" stroke="#f9e000" stroke-width="1.5" stroke-linecap="round" stroke-linejoin="round"/>
<path d="M490.4,601.1 L486.1,604.5 L480.8,608.7 L475.9,614.3 L470.2,617.6 L465.4,618.4 L459.6,618.5" fill="none" stroke="#f9e000" stroke-width="1.0" stroke-linecap="round" stroke-linejoin="round"/>
<path d="M547.0,661.2 L547.0,667.2 L546.8,675.3 L548.1,679.7" fill="none" stroke="#f9e000" stroke-width="1.5" stroke-linecap="round" stroke-linejoin="round"/>
<path d="M539.9,666.3 L540.7,675.0 L542.3,680.4 L540.1,688.8" fill="none" stroke="#f9e000" stroke-width="1.5" stroke-linecap="round" stroke-linejoin="round"/>
<path d="M480.2,618.0 L481.1,624.7 L485.4,628.8 L490.0,633.8 L496.2,635.9 L501.6,637.7" fill="none" stroke="#f9e000" stroke-width="1.0" stroke-linecap="round" stroke-linejoin="round"/>
<path d="M441.4,565.5 L447.5,571.6 L448.9,576.8 L447.3,581.7 L442.0,587.2 L438.5,592.3 L436.0,598.5 L435.1,606.0" fill="none" stroke="#f9e000" stroke-width="1.0" stroke-linecap="round" stroke-linejoin="round"/>
<path d="M388.4,598.8 L393.3,600.1 L399.4,600.3 L406.9,602.1 L413.6,603.1 L422.1,601.0 L431.1,601.6" fill="none" stroke="#f9e000" stroke-width="1.5" stroke-linecap="round" stroke-linejoin="round"/>
<path d="M596.8,552.1 L601.2,559.2 L607.1,563.4 L612.2,567.3 L617.2,573.1 L621.4,576.5 L627.0,577.2 L634.3,575.9" fill="none" stroke="#f9e000" stroke-width="1.0" stroke-linecap="round" stroke-linejoin="round"/>
<path d="M599.3,569.7 L605.0,576.2 L610.6,579.2 L616.8,582.0 L619.0,586.8 L620.5,592.7" fill="none" stroke="#f9e000" stroke-width="1.5" stroke-linecap="round" stroke-linejoin="round"/>
<path d="M486.0,546.6 L486.9,554.6 L492.3,560.3 L495.8,567.2" fill="none" stroke="#f9e000" stroke-width="1.0" stroke-linecap="round" stroke-linejoin="round"/>
<path d="M402.6,611.5 L407.5,616.7 L410.2,623.2" fill="none" stroke="#f9e000" stroke-width="1.5" stroke-linecap="round" stroke-linejoin="round"/>
<path d="M453.3,644.6 L456.9,650.2 L460.7,655.1 L466.6,659.5 L473.7,661.8 L478.3,660.7" fill="none" stroke="#f9e000" stroke-width="1.5" stroke-linecap="round" stroke-linejoin="round"/>
<path d="M569.7,604.5 L571.8,609.4 L575.2,614.5 L577.6,619.7 L579.7,624.6" fill="none" stroke="#f9e000" stroke-width="1.0" stroke-linecap="round" stroke-linejoin="round"/>
<path d="M500.1,590.2 L495.3,595.3 L490.0,597.3 L483.5,600.0" fill="none" stroke="#f9e000" stroke-width="1.0" stroke-linecap="round" stroke-linejoin="round"/>
<path d="M613.4,574.1 L610.4,577.9 L609.4,585.9 L608.6,593.9 L606.9,601.9 L604.0,606.2" fill="none" stroke="#f9e000" stroke-width="1.5" stroke-linecap="round" stroke-linejoin="round"/>
<path d="M566.9,564.7 L563.9,568.4 L559.8,570.6 L555.0,576.7 L552.7,581.4 L548.7,587.0" fill="none" stroke="#f9e000" stroke-width="1.0" stroke-linecap="round" stroke-linejoin="round"/>
<path d="M451.1,620.9 L453.5,625.5 L456.2,633.8 L459.4,639.3 L460.4,643.8 L459.7,651.8 L456.6,657.0" fill="none" stroke="#f9e000" stroke-width="1.5" stroke-linecap="round" stroke-linejoin="round"/>
<path d="M607.9,673.8 L605.2,678.2 L601.8,682.0 L597.7,684.3 L590.5,686.9" fill="none" stroke="#f9e000" stroke-width="1.5" stroke-linecap="round" stroke-linejoin="round"/>
<path d="M483.0,607.9 L480.4,614.4 L474.9,619.5 L472.6,625.6 L472.5,634.0" fill="none" stroke="#f9e000" stroke-width="1.5" stroke-linecap="round" stroke-linejoin="round"/>
<path d="M579.6,656.6 L578.5,664.5 L577.2,668.9 L576.7,673.9 L574.4,680.8 L572.2,686.4" fill="none" stroke="#f9e000" stroke-width="1.0" stroke-linecap="round" stroke-linejoin="round"/>
<path d="M471.4,544.2 L465.7,548.1 L462.5,552.7 L460.2,557.6 L459.8,565.9 L458.1,571.6" fill="none" stroke="#f9e000" stroke-width="1.0" stroke-linecap="round" stroke-linejoin="round"/>
<path d="M403.2,590.2 L405.0,595.8 L405.3,603.4 L408.4,607.5 L411.2,611.9 L412.5,620.0 L412.0,627.1" fill="none" stroke="#f9e000" stroke-width="1.0" stroke-linecap="round" stroke-linejoin="round"/>
<path d="M599.3,667.1 L600.0,676.0 L599.0,683.3 L601.6,691.7 L604.5,696.5" fill="none" stroke="#f9e000" stroke-width="1.5" stroke-linecap="round" stroke-linejoin="round"/>
<path d="M546.6,640.6 L545.2,645.9 L546.6,653.6 L544.1,660.0 L541.6,666.3 L537.2,671.2" fill="none" stroke="#f9e000" stroke-width="1.5" stroke-linecap="round" stroke-linejoin="round"/>
<path d="M500.5,605.8 L506.0,605.5 L511.9,603.2 L517.9,603.5 L522.5,605.2" fill="none" stroke="#f9e000" stroke-width="1.0" stroke-linecap="round" stroke-linejoin="round"/>
<path d="M508.5,652.8 L512.4,656.3 L517.7,659.2 L525.1,660.5 L528.7,665.2 L535.9,668.7 L540.7,672.3 L543.9,679.5" fill="none" stroke="#f9e000" stroke-width="1.0" stroke-linecap="round" stroke-linejoin="round"/>
<path d="M377.2,564.6 L381.0,570.6 L385.3,575.1 L392.3,577.1 L397.4,580.2 L401.7,583.0 L406.7,587.3 L413.0,592.0" fill="none" stroke="#f9e000" stroke-width="1.0" stroke-linecap="round" stroke-linejoin="round"/>
<path d="M522.0,653.8 L517.3,658.7 L513.0,664.4 L510.6,670.5 L506.8,676.3" fill="none" stroke="#f9e000" stroke-width="1.0" stroke-linecap="round" stroke-linejoin="round"/>
<path d="M586.2,628.3 L589.4,632.8 L592.9,636.4 L598.6,640.9 L605.9,642.4 L609.7,645.1 L615.9,646.8" fill="none" stroke="#f9e000" stroke-width="1.0" stroke-linecap="round" stroke-linejoin="round"/>
<path d="M579.9,662.8 L578.3,668.0 L576.2,672.6 L575.6,678.3" fill="none" stroke="#f9e000" stroke-width="1.0" stroke-linecap="round" stroke-linejoin="round"/>
<path d="M502.9,589.2 L506.1,594.7 L506.8,600.7 L507.0,605.6 L507.3,610.8 L509.6,615.7 L512.7,619.8" fill="none" stroke="#f9e000" stroke-width="1.5" stroke-linecap="round" stroke-linejoin="round"/>
<path d="M551.9,602.5 L552.6,608.6 L550.2,615.2 L550.6,619.8" fill="none" stroke="#f9e000" stroke-width="1.0" stroke-linecap="round" stroke-linejoin="round"/>
<path d="M401.0,609.2 L401.8,615.0 L404.7,620.2 L409.8,624.9" fill="none" stroke="#f9e000" stroke-width="1.5" stroke-linecap="round" stroke-linejoin="round"/>
<path d="M497.3,543.8 L492.1,548.7 L487.3,553.2 L486.3,559.8" fill="none" stroke="#f9e000" stroke-width="1.0" stroke-linecap="round" stroke-linejoin="round"/>
<path d="M541.0,576.1 L549.1,578.2 L553.9,583.6 L559.8,585.5 L563.8,589.2 L568.5,594.8 L571.4,599.0 L572.1,606.0" fill="none" stroke="#f9e000" stroke-width="1.0" stroke-linecap="round" stroke-linejoin="round"/>
<path d="M483.2,622.5 L486.4,628.4 L490.8,632.0 L492.4,635.9" fill="none" stroke="#f9e000" stroke-width="1.0" stroke-linecap="round" stroke-linejoin="round"/>
<path d="M620.0,600.5 L622.4,607.4 L627.4,612.2 L629.6,617.3 L630.2,626.1" fill="none" stroke="#b3b3b3" stroke-width="3.0" stroke-linecap="round" stroke-linejoin="round"/>
<path d="M570.3,633.1 L563.9,636.5 L557.9,639.4 L553.4,641.2 L547.7,643.8" fill="none" stroke="#b3b3b3" stroke-width="3.0" stroke-linecap="round" stroke-linejoin="round"/>
<path d="M461.4,582.0 L458.2,584.8 L452.9,587.8 L447.5,589.8 L442.9,597.0 L440.8,602.3" fill="none" stroke="#b3b3b3" stroke-width="2.0" stroke-linecap="round" stroke-linejoin="round"/>
<path d="M596.1,552.2 L596.8,557.0 L595.1,562.7 L594.8,570.2 L591.7,578.4 L590.2,585.8 L588.7,593.5" fill="none" stroke="#b3b3b3" stroke-width="3.0" stroke-linecap="round" stroke-linejoin="round"/>
<path d="M624.5,656.2 L630.3,658.3 L637.7,662.2 L642.2,666.4" fill="none" stroke="#b3b3b3" stroke-width="3.0" stroke-linecap="round" stroke-linejoin="round"/>
<path d="M565.3,607.2 L566.1,612.3 L564.4,618.5 L560.0,622.5 L556.7,628.6 L556.9,633.9" fill="none" stroke="#b3b3b3" stroke-width="3.0" stroke-linecap="round" stroke-linejoin="round"/>
<path d="M413.0,512.0 L420.0,514.0 L426.0,522.0 L430.0,530.0 L428.0,538.0 L422.0,534.0 L418.0,526.0 L415.0,518.0Z" fill="#4d4d4d"/>
<path d="M430.0,534.0 L438.0,532.0 L444.0,540.0 L448.0,552.0 L450.0,566.0 L448.0,574.0 L442.0,572.0 L438.0,560.0 L434.0,550.0 L430.0,542.0Z" fill="#4d4d4d"/>
<path d="M547.5,590.0 L543.8,577.5 L550.0,565.0 L560.0,555.0 L575.0,552.0 L641.2,552.0 L641.2,645.0 L635.0,647.5 L625.0,640.0 L615.0,632.5 L605.0,625.0 L595.0,620.0 L585.0,610.0 L575.0,605.0 L565.0,602.5 L555.0,600.0Z" fill="#b3b3b3"/>
<path d="M560.0,555.0 L550.0,565.0 L543.8,577.5 L547.5,590.0 L555.0,600.0 L565.0,602.5 L575.0,605.0 L585.0,610.0 L595.0,620.0 L605.0,625.0 L615.0,632.5 L625.0,640.0 L635.0,647.5 L640.5,645.5" fill="none" stroke="#1b74cf" stroke-width="2.5" stroke-linecap="round" stroke-linejoin="round"/>
<path d="M540.0,560.0 L550.0,562.5 L562.5,567.5 L575.0,572.5 L585.0,570.0 L595.0,562.5 L602.5,557.5" fill="none" stroke="#1b74cf" stroke-width="2.5" stroke-linecap="round" stroke-linejoin="round"/>
<path d="M540.0,560.0 L550.0,562.5 L562.5,567.5 L575.0,572.5 L585.0,570.0" fill="none" stroke="#cc0000" stroke-width="1.5" stroke-linecap="round" stroke-linejoin="round"/>
<path d="M587.5,575.0 L592.5,576.2 L598.8,590.0 L595.0,590.0Z" fill="#cc0000" stroke="#e8ee1d" stroke-width="1" stroke-linejoin="round"/>
<path d="M589.8,535.7 L595.8,529.7 L599.8,517.7 L595.8,513.7 L603.8,517.7 L611.8,519.7 L617.8,511.7 L619.8,505.7 L627.7,503.7 L635.7,501.7 L639.3,507.7 L631.7,515.7 L627.7,523.7 L623.7,529.7 L619.8,537.7 L627.7,539.7 L635.7,535.7 L639.3,539.7 L639.3,549.6 L631.7,548.6 L623.7,547.6 L615.8,547.6 L607.8,548.6 L599.8,547.6 L591.8,546.6 L583.8,548.6 L577.9,548.6 L581.8,543.6 L589.8,541.6Z" fill="#1b74cf"/>
<path d="M599.8,539.7 L603.8,533.7 L607.8,529.7 L611.8,523.7 L613.8,527.7 L612.8,535.7 L615.8,541.6 L609.8,545.6 L603.8,544.6Z" fill="#cc0000" stroke="#f9e000" stroke-width="1.5" stroke-linejoin="round"/>
<path d="M579.9,548.0 L591.8,545.2 L599.8,544.0" fill="none" stroke="#cc0000" stroke-width="2" stroke-linecap="round" stroke-linejoin="round"/>
<path d="M615.8,544.0 L623.7,546.6 L631.7,547.2" fill="none" stroke="#cc0000" stroke-width="2" stroke-linecap="round" stroke-linejoin="round"/>
<path d="M619.8,517.7 L624.7,511.7 L629.3,507.7" fill="none" stroke="#f9e000" stroke-width="1.2" stroke-linecap="round" stroke-linejoin="round"/>
<path d="M613.8,489.8 L619.8,493.8 L621.7,497.8 L629.7,498.8 L635.7,493.8 L639.7,491.8" fill="none" stroke="#1b74cf" stroke-width="1.5" stroke-linecap="round" stroke-linejoin="round"/>
<path d="M556.9,455.9 L557.9,463.8" fill="none" stroke="#1b74cf" stroke-width="1.2" stroke-linecap="round" stroke-linejoin="round"/>
<path d="M537.5,538.0 L550.0,543.0 L557.5,548.0 L550.0,551.0 L537.5,551.0Z" fill="#cc0000" stroke="#1b74cf" stroke-width="2" stroke-linejoin="round"/>
<path d="M359.9,540.0 L435.7,540.0 L437.7,563.9 L435.7,585.9 L441.7,605.8 L453.7,599.9 L469.7,591.9 L481.6,595.9 L485.6,605.8 L473.6,615.8 L457.7,619.8 L441.7,623.8 L433.7,629.8 L417.8,619.8 L399.8,617.8 L395.8,599.9 L385.9,589.9 L369.9,569.9 L367.9,556.0Z" fill="#cc0000"/>
<path d="M529.5,623.8 L541.5,627.8 L553.4,633.8 L569.4,627.8 L581.4,623.8 L589.4,631.8 L595.3,643.7 L599.3,659.7 L595.3,675.7 L585.4,683.6 L577.4,691.6 L565.4,687.6 L549.5,679.7 L533.5,671.7 L525.5,667.7 L524.5,651.7 L529.5,639.8Z" fill="#cc0000"/>
<path d="M417.8,607.8 L429.8,603.8 L441.7,597.9 L453.7,590.9" fill="none" stroke="#1b74cf" stroke-width="3" stroke-linecap="round" stroke-linejoin="round"/>
<path d="M441.7,575.9 L438.7,587.9 L439.7,599.9 L445.7,607.8" fill="none" stroke="#1b74cf" stroke-width="2.5" stroke-linecap="round" stroke-linejoin="round"/>
<path d="M375.9,558.0 L383.9,569.9 L393.8,581.9 L401.8,591.9" fill="none" stroke="#1b74cf" stroke-width="2" stroke-linecap="round" stroke-linejoin="round"/>
<path d="M379.9,563.9 L389.9,577.9 L397.8,587.9" fill="none" stroke="#f9e000" stroke-width="1.5" stroke-linecap="round" stroke-linejoin="round"/>
<path d="M413.8,611.8 L423.8,615.8 L433.7,619.8" fill="none" stroke="#1b74cf" stroke-width="2" stroke-linecap="round" stroke-linejoin="round"/>
<path d="M545.5,633.8 L551.4,639.8 L547.5,645.7" fill="none" stroke="#1b74cf" stroke-width="2" stroke-linecap="round" stroke-linejoin="round"/>
<path d="M571.4,643.7 L577.4,641.7 L581.4,647.7 L576.4,651.7 L571.4,648.7 L571.4,643.7" fill="none" stroke="#1b74cf" stroke-width="2.5" stroke-linecap="round" stroke-linejoin="round"/>
<path d="M569.4,641.7 L579.4,639.8 L584.4,648.7 L576.4,654.7 L568.4,650.7" fill="none" stroke="#f9e000" stroke-width="1" stroke-linecap="round" stroke-linejoin="round"/>
<path d="M541.5,659.7 L547.5,658.7 L549.5,664.7 L544.5,667.7 L540.5,663.7 L541.5,659.7" fill="none" stroke="#1b74cf" stroke-width="2.5" stroke-linecap="round" stroke-linejoin="round"/>
<path d="M533.5,639.8 L538.5,645.7 L537.5,651.7" fill="none" stroke="#1b74cf" stroke-width="2" stroke-linecap="round" stroke-linejoin="round"/>
<path d="M530.0,635.0 L550.0,640.0 L570.0,645.0 L590.0,647.5 L600.0,657.5 L600.0,680.0 L590.0,690.0 L575.0,690.0 L560.0,680.0 L540.0,670.0 L525.0,660.0Z" fill="#cc0000"/>
<path d="M400.0,540.0 L420.0,550.0 L427.5,570.0 L422.5,590.0 L410.0,605.0 L400.0,610.0Z" fill="#cc0000"/>
<path d="M352.5,460.5 L363.8,449.2 L370.0,456.8 L373.8,466.8 L381.2,479.2 L388.8,494.2 L395.0,510.5 L402.5,524.2 L412.5,536.8 L422.5,548.0 L430.0,559.2 L435.0,570.5 L436.2,583.0 L431.2,594.2 L420.0,598.0 L410.0,593.0 L402.5,583.0 L395.0,575.5 L390.0,563.0 L385.0,553.0 L380.0,543.0 L372.5,533.0 L367.5,523.0 L362.5,513.0 L357.5,498.0 L353.8,483.0 L351.2,470.5Z" fill="#cc0000" stroke="#f0a800" stroke-width="2" stroke-linejoin="round"/>
<path d="M369.9,552.0 L389.9,548.0 L409.8,552.0 L429.8,563.9 L433.7,585.9 L429.8,599.9 L417.8,605.8 L405.8,599.9 L395.8,591.9 L385.9,583.9 L375.9,569.9Z" fill="#cc0000"/>
<path d="M417.8,592.9 L425.8,590.9 L435.7,592.3 L437.7,597.9 L429.8,601.8 L420.8,599.9Z" fill="#f0a800"/>
<path d="M423.8,594.9 L429.8,593.9 L431.7,597.9 L425.8,599.5Z" fill="#f9e000"/>
<path d="M428.8,592.3 L433.7,592.9 L434.1,596.3 L429.8,595.9Z" fill="#b3d13f"/>
<path d="M441.7,575.9 L438.7,587.9 L439.7,599.9 L445.7,607.8" fill="none" stroke="#1b74cf" stroke-width="2.5" stroke-linecap="round" stroke-linejoin="round"/>
<path d="M343.8,503.0 L352.5,498.0 L360.0,505.5 L365.0,515.5 L357.5,518.0 L350.0,513.0Z" fill="#cc0000" stroke="#e8ee1d" stroke-width="1.5" stroke-linejoin="round"/>
<path d="M672.5,689.5 L672.5,680.0 L677.5,660.0 L680.0,645.0 L682.5,630.0 L687.5,615.0 L692.5,600.0 L695.0,592.5 L697.5,600.0 L696.2,615.0 L697.5,627.5 L702.5,637.5 L707.5,635.0 L710.0,645.0 L707.5,657.5 L712.5,667.5 L722.5,670.0 L725.0,680.0 L735.0,683.8 L735.0,690.0 L692.5,690.0Z" fill="#cc0000" stroke="#1b74cf" stroke-width="2" stroke-linejoin="round"/>
<path d="M710.0,645.0 L717.5,647.5 L720.0,660.0 L715.0,667.5 L710.0,662.5Z" fill="#b3b3b3" stroke="#1b74cf" stroke-width="1.5" stroke-linejoin="round"/>
<path d="M641.2,655.0 L650.0,665.0 L660.0,667.5 L670.0,660.0 L672.5,680.0 L672.5,690.0 L658.8,690.0 L658.8,702.5 L641.2,702.5Z" fill="#cc0000" stroke="#1b74cf" stroke-width="2" stroke-linejoin="round"/>
<path d="M888.0,524.0 L900.0,520.0 L912.0,515.0 L928.0,517.0 L940.0,513.0 L945.0,498.0 L936.0,500.0 L938.0,510.0 L928.0,514.0 L916.0,514.0 L908.0,520.0 L896.0,522.0Z" fill="#4b93a0"/>
<path d="M936.0,500.0 L945.0,496.0 L945.0,510.0 L938.0,510.0Z" fill="#1b74cf"/>
<path d="M864.0,540.0 L876.0,526.0 L890.0,522.0 L904.0,526.0 L912.0,517.0 L928.0,519.0 L940.0,515.0 L945.0,514.0 L945.0,540.0 L940.0,544.0 L932.0,544.0 L920.0,546.0 L908.0,548.0 L896.0,546.0 L884.0,544.0 L872.0,544.0Z" fill="#b3d13f"/>
<path d="M860.0,544.0 L868.0,538.0 L876.0,530.0 L884.0,528.0 L892.0,532.0 L900.0,538.0 L912.0,540.0 L924.0,534.0 L936.0,530.0 L945.0,532.0 L945.0,544.0 L940.0,544.0 L932.0,544.0 L920.0,546.0 L908.0,548.0 L896.0,546.0 L884.0,544.0 L872.0,544.0Z" fill="#f0a800"/>
<path d="M947.0,494.0 L952.0,498.0 L958.0,506.0 L962.0,512.0 L956.0,514.0 L950.0,510.0 L947.0,510.0Z" fill="#1b74cf"/>
<path d="M948.0,510.0 L960.0,514.0 L972.0,518.0 L976.0,504.0 L984.0,500.0 L996.0,498.0 L1004.0,506.0 L1006.0,520.0 L1000.0,524.0 L988.0,516.0 L976.0,520.0 L960.0,520.0 L948.0,520.0Z" fill="#4b93a0"/>
<path d="M947.0,512.0 L960.0,516.0 L976.0,520.0 L988.0,516.0 L1000.0,524.0 L1008.0,520.0 L1008.0,540.0 L1012.0,550.0 L1018.0,557.0 L1000.0,557.0 L984.0,558.0 L972.0,560.0 L960.0,562.0 L947.0,562.0Z" fill="#b3d13f"/>
<path d="M947.0,526.0 L960.0,524.0 L970.0,528.0 L972.0,540.0 L966.0,548.0 L972.0,560.0 L960.0,562.0 L947.0,562.0Z" fill="#f0a800"/>
<path d="M978.0,542.0 L988.0,540.0 L1000.0,542.0 L998.0,552.0 L984.0,552.0Z" fill="#4b93a0"/>
<path d="M984.0,544.0 L992.0,543.0 L994.0,549.0 L986.0,550.0Z" fill="#1b74cf"/>
<path d="M972.0,559.0 L984.0,554.0 L1000.0,552.0 L1012.0,551.0 L1018.0,547.0 L1026.0,542.0 L1040.0,538.0 L1048.0,534.0 L1054.0,538.0 L1044.0,542.0 L1032.0,546.0 L1020.0,550.0 L1016.0,556.0 L1000.0,557.0 L984.0,558.0Z" fill="#f0a800"/>
<path d="M1040.0,500.0 L1056.0,497.0 L1072.0,499.0 L1088.0,501.0 L1100.0,506.0 L1116.0,510.0 L1132.0,508.0 L1148.0,514.0 L1164.0,512.0 L1180.0,516.0 L1180.0,524.0 L1148.0,522.0 L1116.0,518.0 L1088.0,510.0 L1072.0,508.0 L1056.0,506.0 L1040.0,507.0Z" fill="#4b93a0"/>
<path d="M1024.0,502.0 L1032.0,498.0 L1048.0,502.0 L1064.0,504.0 L1080.0,506.0 L1092.0,508.0 L1100.0,512.0 L1116.0,516.0 L1132.0,514.0 L1148.0,520.0 L1164.0,518.0 L1180.0,522.0 L1180.0,552.0 L1168.0,550.0 L1152.0,544.0 L1136.0,542.0 L1120.0,538.0 L1112.0,528.0 L1096.0,524.0 L1080.0,526.0 L1068.0,530.0 L1058.0,524.0 L1048.0,516.0 L1040.0,508.0 L1034.0,512.0 L1028.0,508.0Z" fill="#b3d13f"/>
<path d="M1028.0,508.0 L1034.0,502.0 L1040.0,506.0 L1048.0,514.0 L1058.0,522.0 L1068.0,528.0 L1080.0,524.0 L1096.0,522.0 L1112.0,526.0 L1120.0,536.0 L1136.0,540.0 L1152.0,542.0 L1168.0,548.0 L1180.0,550.0 L1180.0,560.0 L1168.0,558.0 L1152.0,552.0 L1136.0,550.0 L1120.0,548.0 L1112.0,542.0 L1108.0,534.0 L1096.0,530.0 L1084.0,534.0 L1072.0,542.0 L1062.0,549.0 L1058.0,546.0 L1054.0,540.0 L1048.0,530.0 L1040.0,520.0 L1034.0,512.0Z" fill="#f0a800"/>
<path d="M1028.0,508.0 L1033.0,504.0 L1038.0,508.0 L1037.0,514.0 L1032.0,513.0Z" fill="#e67300"/>
<path d="M1105.0,528.0 L1115.0,521.8 L1132.5,518.0 L1140.0,513.0 L1150.0,513.0 L1165.0,513.0 L1185.0,515.5 L1200.0,520.5 L1210.0,538.0 L1212.5,543.0 L1202.5,550.5 L1190.0,558.0 L1180.0,560.5 L1165.0,558.0 L1152.5,555.5 L1140.0,553.0 L1127.5,548.0 L1115.0,540.5 L1110.0,533.0Z" fill="#b3d13f"/>
<path d="M1127.5,545.5 L1140.0,540.5 L1155.0,543.0 L1170.0,548.0 L1185.0,548.0 L1200.0,538.0 L1207.5,530.5 L1212.5,543.0 L1202.5,550.5 L1190.0,558.0 L1180.0,560.5 L1165.0,558.0 L1152.5,555.5 L1140.0,553.0Z" fill="#f0a800"/>
<path d="M1137.5,518.0 L1150.0,514.2 L1165.0,514.2 L1182.5,516.8 L1190.0,525.5 L1180.0,533.0 L1165.0,531.8 L1150.0,529.2 L1140.0,525.5Z" fill="#4b93a0"/>
<path d="M1147.5,520.5 L1165.0,516.8 L1177.5,519.2 L1182.5,525.5 L1172.5,529.2 L1160.0,526.8 L1150.0,525.5Z" fill="#1b74cf"/>
<path d="M1298.0,494.0 L1302.0,488.0 L1310.0,484.0 L1320.0,482.0 L1332.0,481.0 L1344.0,480.0 L1350.0,474.0 L1356.0,470.0 L1364.0,469.0 L1366.0,472.0 L1360.0,476.0 L1356.0,480.0 L1358.0,488.0 L1362.0,494.0 L1360.0,500.0 L1358.0,506.0 L1357.0,515.0 L1354.0,520.0 L1344.0,520.0 L1338.0,522.0 L1334.0,530.0 L1328.0,520.0 L1325.0,508.0 L1320.0,512.0 L1314.0,512.0 L1308.0,516.0 L1300.0,512.0 L1292.0,516.0 L1284.0,524.0 L1276.0,532.0 L1268.0,540.0 L1260.0,548.0 L1252.0,556.0 L1240.0,560.0 L1234.0,558.0 L1240.0,550.0 L1248.0,540.0 L1256.0,532.0 L1264.0,524.0 L1274.0,516.0 L1284.0,508.0 L1292.0,500.0Z" fill="#1b74cf"/>
<path d="M1300.0,512.0 L1308.0,516.0 L1314.0,512.0 L1320.0,512.0 L1324.0,520.0 L1320.0,524.0 L1312.0,528.0 L1304.0,526.0 L1292.0,534.0 L1280.0,540.0 L1268.0,550.0 L1260.0,560.0 L1254.0,565.0 L1238.0,565.0 L1240.0,560.0 L1252.0,556.0 L1260.0,548.0 L1268.0,540.0 L1276.0,532.0 L1284.0,524.0 L1292.0,516.0Z" fill="#b3d13f"/>
<path d="M1300.0,512.0 L1308.0,516.0 L1302.0,518.0 L1294.0,522.0 L1286.0,530.0 L1278.0,538.0 L1270.0,546.0 L1262.0,554.0 L1252.0,560.0 L1240.0,560.0 L1252.0,556.0 L1260.0,548.0 L1268.0,540.0 L1276.0,532.0 L1284.0,524.0 L1292.0,516.0Z" fill="#4b93a0"/>
<path d="M1308.0,520.0 L1316.0,518.0 L1324.0,522.0 L1320.0,526.0 L1312.0,530.0 L1304.0,528.0 L1292.0,536.0 L1280.0,542.0 L1268.0,552.0 L1260.0,562.0 L1256.0,565.0 L1248.0,565.0 L1254.0,558.0 L1264.0,548.0 L1274.0,540.0 L1286.0,532.0 L1296.0,526.0Z" fill="#f0a800"/>
<path d="M1344.0,515.0 L1357.0,515.0 L1356.0,522.0 L1352.0,528.0 L1344.0,524.0 L1340.0,520.0Z" fill="#4b93a0"/>
<path d="M1334.0,522.0 L1340.0,520.0 L1344.0,524.0 L1352.0,528.0 L1346.0,538.0 L1340.0,547.0 L1338.0,550.0 L1334.0,540.0Z" fill="#b3d13f"/>
<path d="M1371.0,460.0 L1377.0,450.0 L1382.0,445.0 L1392.0,441.0 L1404.0,437.6 L1416.0,436.0 L1428.0,433.6 L1428.0,446.0 L1400.0,455.0 L1377.0,461.0Z" fill="#1b74cf"/>
<path d="M1200.0,518.0 L1216.0,516.0 L1224.0,520.0 L1220.0,530.0 L1210.0,538.0 L1200.0,540.0 L1180.0,546.0 L1180.0,514.0Z" fill="#b3d13f"/>
<path d="M1202.0,524.0 L1212.0,522.0 L1216.0,528.0 L1208.0,534.0 L1200.0,534.0Z" fill="#f0a800"/>
<path d="M1216.0,518.0 L1224.0,516.0 L1226.0,520.0 L1220.0,524.0Z" fill="#1b74cf"/>
<path d="M735.0,690.0 L733.8,670.0 L735.0,660.0 L732.5,650.0 L722.5,640.0 L720.0,630.0 L727.5,622.5 L735.0,615.0 L732.5,607.5 L737.5,595.0 L745.0,590.0 L755.0,590.0 L762.5,593.8 L768.8,596.2 L768.8,637.5 L775.0,630.0 L785.0,627.5 L790.0,622.5 L785.0,615.0 L790.0,605.0 L787.5,595.0 L791.2,585.0 L800.0,577.5 L812.5,572.5 L825.0,570.0 L830.5,565.0 L829.0,565.0 L829.0,555.0 L840.0,554.4 L852.0,554.0 L856.0,550.0 L860.0,544.0 L872.0,542.0 L884.0,540.0 L896.0,544.0 L908.0,546.0 L920.0,542.0 L932.0,540.0 L940.0,536.0 L945.0,540.0 L947.0,560.0 L960.0,560.0 L972.0,558.0 L984.0,556.0 L1000.0,555.0 L1016.0,554.0 L1020.0,548.0 L1032.0,544.0 L1044.0,540.0 L1054.0,538.0 L1058.0,544.0 L1062.0,547.0 L1072.0,540.0 L1084.0,532.0 L1096.0,528.0 L1108.0,532.0 L1112.0,540.0 L1120.0,546.0 L1136.0,548.0 L1152.0,550.0 L1168.0,556.0 L1180.0,558.0 L1180.0,561.0 L1188.0,558.0 L1200.0,556.0 L1212.0,560.0 L1228.0,561.0 L1240.0,560.0 L1252.0,554.0 L1264.0,548.0 L1272.0,542.0 L1280.0,536.0 L1292.0,532.0 L1304.0,524.0 L1316.0,526.0 L1324.0,530.0 L1330.0,536.0 L1338.0,552.0 L1360.0,552.0 L1400.0,600.0 L1400.0,900.0 L690.0,900.0 L687.5,695.0 L692.5,683.8Z" fill="#cc0000"/>
<path d="M1250.0,563.0 L1260.0,556.0 L1268.0,547.0 L1280.0,537.0 L1292.0,531.0 L1304.0,523.0 L1312.0,520.0 L1318.0,521.0 L1308.0,528.0 L1300.4,532.8 L1280.2,548.8 L1266.0,560.0 L1260.0,563.0Z" fill="#e67300"/>
<path d="M1260.0,563.0 L1266.0,560.0 L1280.2,548.8 L1300.4,532.8 L1308.0,528.0 L1312.0,530.0 L1302.0,538.0 L1284.0,550.0 L1270.0,562.0 L1268.0,563.0Z" fill="#dc3a00"/>
<path d="M1130.0,598.0 L1140.0,580.0 L1152.0,568.0 L1166.0,564.0 L1169.0,568.0 L1157.0,579.0 L1149.0,591.0 L1139.0,600.0Z" fill="#b3d13f"/>
<path d="M1135.0,594.0 L1144.0,580.0 L1155.0,570.0 L1164.0,566.0 L1160.0,572.0 L1151.0,580.0 L1143.0,591.0Z" fill="#1b74cf" opacity="0.8"/>
<path d="M1130.0,598.0 L1136.0,588.0 L1140.0,580.0 L1143.0,581.0 L1138.0,590.0 L1134.0,599.0Z" fill="#f0a800"/>
<path d="M1164.0,601.0 L1180.0,589.0 L1194.0,583.0 L1208.0,573.0 L1216.0,565.0 L1221.0,570.0 L1211.0,585.0 L1197.0,595.0 L1185.0,601.0 L1170.0,603.6Z" fill="#b3d13f"/>
<path d="M1168.0,600.0 L1182.0,591.0 L1196.0,585.0 L1209.0,575.0 L1216.0,568.0 L1218.0,571.0 L1209.0,584.0 L1196.0,593.0 L1184.0,599.0 L1171.0,601.6Z" fill="#1b74cf"/>
<path d="M1212.0,570.0 L1218.0,565.0 L1220.0,568.0 L1216.0,575.0Z" fill="#b3b3b3"/>
<path d="M1184.0,594.0 L1194.0,588.0 L1196.0,591.0 L1188.0,597.0Z" fill="#b3b3b3" opacity="0.7"/>
<path d="M1156.0,608.0 L1166.0,606.0 L1180.0,607.0 L1176.0,610.0 L1164.0,614.0 L1160.0,617.0Z" fill="#1b74cf"/>
<path d="M1112.0,540.0 L1120.0,544.0 L1130.0,549.0 L1140.0,553.0 L1156.0,555.6 L1170.0,554.0 L1184.0,548.0 L1194.0,542.0 L1204.0,538.0 L1212.0,540.0 L1208.0,548.0 L1196.0,554.0 L1184.0,559.0 L1168.0,560.0 L1150.0,560.0 L1138.0,558.0 L1128.0,554.0 L1118.0,548.0 L1112.0,544.0Z" fill="#b3d13f"/>
<path d="M1120.0,546.0 L1130.0,551.0 L1140.0,556.0 L1156.0,558.4 L1170.0,557.0 L1184.0,551.0 L1188.0,556.0 L1180.0,560.0 L1160.0,560.6 L1140.0,560.0 L1128.0,557.0 L1120.0,551.0Z" fill="#f0a800"/>
<path d="M1166.0,536.0 L1180.0,538.0 L1190.0,542.0 L1184.0,548.0 L1174.0,550.0 L1166.0,546.0Z" fill="#1b74cf"/>
<path d="M1194.0,552.0 L1204.0,544.0 L1212.0,540.0 L1244.0,536.0 L1248.0,548.0 L1240.0,560.0 L1228.0,561.0 L1220.0,560.0 L1214.0,562.0 L1208.0,560.0 L1200.0,558.0Z" fill="#1b74cf"/>
<path d="M1200.0,552.0 L1208.0,545.0 L1216.0,541.0 L1240.0,536.0 L1238.0,550.0 L1232.0,559.0 L1222.0,559.0 L1214.0,557.0 L1206.0,556.0Z" fill="#b3b3b3"/>
<path d="M1240.0,560.0 L1248.0,548.0 L1254.0,540.0 L1266.0,536.0 L1272.0,542.0 L1264.0,548.0 L1252.0,554.0Z" fill="#b3d13f"/>
<path d="M1248.0,556.0 L1256.0,548.0 L1264.0,542.0 L1270.0,538.0 L1274.0,541.0 L1266.0,548.0 L1256.0,555.0Z" fill="#f0a800"/>
<path d="M956.0,582.0 L968.0,576.0 L974.0,574.0 L976.0,580.0 L986.0,584.0 L980.0,588.0 L968.0,587.0 L960.0,585.0Z" fill="#f9e000" opacity="0.9"/>
<path d="M964.0,583.0 L970.0,580.0 L973.0,576.0" fill="none" stroke="#4b93a0" stroke-width="1.5" stroke-linecap="round" stroke-linejoin="round"/>
<path d="M1262.0,607.0 L1272.0,599.0 L1281.0,601.0 L1293.0,607.0 L1301.0,615.0 L1309.0,619.0 L1303.0,627.0 L1299.0,633.0 L1292.0,635.0 L1283.0,635.0 L1275.0,629.0 L1269.0,621.0 L1264.4,613.0Z" fill="#e67300"/>
<path d="M1266.0,608.0 L1273.0,602.0 L1280.0,604.0 L1291.0,610.0 L1299.0,618.0 L1305.0,621.0 L1301.0,627.0 L1297.0,632.0 L1291.0,633.6 L1284.0,633.6 L1277.0,627.6 L1271.6,620.0 L1267.6,613.0Z" fill="#f0a800"/>
<path d="M1286.0,628.0 L1295.0,624.0 L1300.0,628.0 L1297.0,632.4 L1290.0,634.0 L1284.0,633.6Z" fill="#b3d13f"/>
<path d="M1274.0,606.0 L1280.0,608.0 L1286.0,616.0 L1280.0,618.0 L1275.0,612.0Z" fill="#f9e000"/>
<path d="M738.0,680.0 L740.0,672.0 L750.0,670.0 L760.0,674.0 L766.0,676.0 L774.0,670.0 L786.0,664.0 L796.0,660.0 L800.0,652.0 L810.0,644.0 L822.0,638.0 L834.0,634.0 L846.0,632.0 L858.0,634.0 L866.0,642.0 L874.0,648.0 L886.0,646.0 L898.0,644.0 L910.0,646.0 L922.0,644.0 L934.0,642.0 L946.0,642.0 L956.0,644.0 L970.0,650.0 L982.0,650.0 L994.0,648.0 L1006.0,646.0 L1016.0,642.0 L1020.0,642.0 L1030.0,638.0 L1038.0,646.0 L1046.0,658.0 L1062.0,658.0 L1074.0,650.0 L1078.0,648.0 L1082.0,648.0 L1094.0,646.0 L1110.0,650.0 L1110.0,660.0 L1120.0,664.0 L1130.0,666.0 L1140.0,668.0 L1152.0,664.0 L1160.0,660.0 L1170.0,656.0 L1180.0,652.0 L1190.0,648.0 L1200.0,642.0 L1208.0,638.0 L1216.0,634.0 L1224.0,630.0 L1236.0,628.0 L1244.0,626.0 L1252.0,624.0 L1260.0,622.0 L1270.0,626.0 L1276.0,636.0 L1280.0,644.0 L1280.0,652.0 L1252.0,676.0 L1240.0,680.0 L1228.0,678.0 L1220.0,678.0 L1210.0,680.0 L1200.0,684.0 L1190.0,688.0 L1180.0,690.0 L1170.0,694.0 L1160.0,696.0 L1150.0,698.0 L1140.0,700.0 L1130.0,698.0 L1120.0,700.0 L1112.0,706.0 L1100.0,710.0 L1100.0,703.5 L1090.0,704.8 L1075.0,703.5 L1060.0,702.2 L1045.0,701.0 L1035.0,698.5 L1025.0,701.0 L1010.0,698.5 L995.0,693.5 L985.0,688.5 L975.0,691.0 L966.0,698.0 L956.0,700.0 L946.0,702.0 L934.0,703.0 L922.0,706.0 L910.0,708.0 L898.0,706.0 L890.0,708.0 L882.0,706.0 L876.0,710.0 L882.0,714.0 L876.0,720.0 L870.0,726.0 L874.0,732.0 L866.0,738.0 L858.0,742.0 L848.0,744.0 L838.0,742.0 L828.0,740.0 L820.0,734.0 L814.0,728.0 L806.0,726.0 L800.0,720.0 L794.0,716.0 L790.0,706.0 L784.0,700.0 L778.0,698.0 L770.0,700.0 L764.0,704.0 L766.0,712.0 L774.0,716.0 L782.0,720.0 L780.0,726.0 L774.0,732.0 L766.0,736.0 L758.0,738.0 L750.0,740.0 L742.0,738.0 L738.0,732.0 L734.0,724.0 L736.0,714.0 L738.0,704.0 L738.0,692.0Z" fill="#dc3a00" stroke="#dc3a00" stroke-width="27" stroke-linejoin="round"/>
<path d="M738.0,680.0 L740.0,672.0 L750.0,670.0 L760.0,674.0 L766.0,676.0 L774.0,670.0 L786.0,664.0 L796.0,660.0 L800.0,652.0 L810.0,644.0 L822.0,638.0 L834.0,634.0 L846.0,632.0 L858.0,634.0 L866.0,642.0 L874.0,648.0 L886.0,646.0 L898.0,644.0 L910.0,646.0 L922.0,644.0 L934.0,642.0 L946.0,642.0 L956.0,644.0 L970.0,650.0 L982.0,650.0 L994.0,648.0 L1006.0,646.0 L1016.0,642.0 L1020.0,642.0 L1030.0,638.0 L1038.0,646.0 L1046.0,658.0 L1062.0,658.0 L1074.0,650.0 L1078.0,648.0 L1082.0,648.0 L1094.0,646.0 L1110.0,650.0 L1110.0,660.0 L1120.0,664.0 L1130.0,666.0 L1140.0,668.0 L1152.0,664.0 L1160.0,660.0 L1170.0,656.0 L1180.0,652.0 L1190.0,648.0 L1200.0,642.0 L1208.0,638.0 L1216.0,634.0 L1224.0,630.0 L1236.0,628.0 L1244.0,626.0 L1252.0,624.0 L1260.0,622.0 L1270.0,626.0 L1276.0,636.0 L1280.0,644.0 L1280.0,652.0 L1252.0,676.0 L1240.0,680.0 L1228.0,678.0 L1220.0,678.0 L1210.0,680.0 L1200.0,684.0 L1190.0,688.0 L1180.0,690.0 L1170.0,694.0 L1160.0,696.0 L1150.0,698.0 L1140.0,700.0 L1130.0,698.0 L1120.0,700.0 L1112.0,706.0 L1100.0,710.0 L1100.0,703.5 L1090.0,704.8 L1075.0,703.5 L1060.0,702.2 L1045.0,701.0 L1035.0,698.5 L1025.0,701.0 L1010.0,698.5 L995.0,693.5 L985.0,688.5 L975.0,691.0 L966.0,698.0 L956.0,700.0 L946.0,702.0 L934.0,703.0 L922.0,706.0 L910.0,708.0 L898.0,706.0 L890.0,708.0 L882.0,706.0 L876.0,710.0 L882.0,714.0 L876.0,720.0 L870.0,726.0 L874.0,732.0 L866.0,738.0 L858.0,742.0 L848.0,744.0 L838.0,742.0 L828.0,740.0 L820.0,734.0 L814.0,728.0 L806.0,726.0 L800.0,720.0 L794.0,716.0 L790.0,706.0 L784.0,700.0 L778.0,698.0 L770.0,700.0 L764.0,704.0 L766.0,712.0 L774.0,716.0 L782.0,720.0 L780.0,726.0 L774.0,732.0 L766.0,736.0 L758.0,738.0 L750.0,740.0 L742.0,738.0 L738.0,732.0 L734.0,724.0 L736.0,714.0 L738.0,704.0 L738.0,692.0Z" fill="#e67300" stroke="#e67300" stroke-width="23" stroke-linejoin="round"/>
<path d="M738.0,680.0 L740.0,672.0 L750.0,670.0 L760.0,674.0 L766.0,676.0 L774.0,670.0 L786.0,664.0 L796.0,660.0 L800.0,652.0 L810.0,644.0 L822.0,638.0 L834.0,634.0 L846.0,632.0 L858.0,634.0 L866.0,642.0 L874.0,648.0 L886.0,646.0 L898.0,644.0 L910.0,646.0 L922.0,644.0 L934.0,642.0 L946.0,642.0 L956.0,644.0 L970.0,650.0 L982.0,650.0 L994.0,648.0 L1006.0,646.0 L1016.0,642.0 L1020.0,642.0 L1030.0,638.0 L1038.0,646.0 L1046.0,658.0 L1062.0,658.0 L1074.0,650.0 L1078.0,648.0 L1082.0,648.0 L1094.0,646.0 L1110.0,650.0 L1110.0,660.0 L1120.0,664.0 L1130.0,666.0 L1140.0,668.0 L1152.0,664.0 L1160.0,660.0 L1170.0,656.0 L1180.0,652.0 L1190.0,648.0 L1200.0,642.0 L1208.0,638.0 L1216.0,634.0 L1224.0,630.0 L1236.0,628.0 L1244.0,626.0 L1252.0,624.0 L1260.0,622.0 L1270.0,626.0 L1276.0,636.0 L1280.0,644.0 L1280.0,652.0 L1252.0,676.0 L1240.0,680.0 L1228.0,678.0 L1220.0,678.0 L1210.0,680.0 L1200.0,684.0 L1190.0,688.0 L1180.0,690.0 L1170.0,694.0 L1160.0,696.0 L1150.0,698.0 L1140.0,700.0 L1130.0,698.0 L1120.0,700.0 L1112.0,706.0 L1100.0,710.0 L1100.0,703.5 L1090.0,704.8 L1075.0,703.5 L1060.0,702.2 L1045.0,701.0 L1035.0,698.5 L1025.0,701.0 L1010.0,698.5 L995.0,693.5 L985.0,688.5 L975.0,691.0 L966.0,698.0 L956.0,700.0 L946.0,702.0 L934.0,703.0 L922.0,706.0 L910.0,708.0 L898.0,706.0 L890.0,708.0 L882.0,706.0 L876.0,710.0 L882.0,714.0 L876.0,720.0 L870.0,726.0 L874.0,732.0 L866.0,738.0 L858.0,742.0 L848.0,744.0 L838.0,742.0 L828.0,740.0 L820.0,734.0 L814.0,728.0 L806.0,726.0 L800.0,720.0 L794.0,716.0 L790.0,706.0 L784.0,700.0 L778.0,698.0 L770.0,700.0 L764.0,704.0 L766.0,712.0 L774.0,716.0 L782.0,720.0 L780.0,726.0 L774.0,732.0 L766.0,736.0 L758.0,738.0 L750.0,740.0 L742.0,738.0 L738.0,732.0 L734.0,724.0 L736.0,714.0 L738.0,704.0 L738.0,692.0Z" fill="#f0a800" stroke="#f0a800" stroke-width="19" stroke-linejoin="round"/>
<path d="M738.0,680.0 L740.0,672.0 L750.0,670.0 L760.0,674.0 L766.0,676.0 L774.0,670.0 L786.0,664.0 L796.0,660.0 L800.0,652.0 L810.0,644.0 L822.0,638.0 L834.0,634.0 L846.0,632.0 L858.0,634.0 L866.0,642.0 L874.0,648.0 L886.0,646.0 L898.0,644.0 L910.0,646.0 L922.0,644.0 L934.0,642.0 L946.0,642.0 L956.0,644.0 L970.0,650.0 L982.0,650.0 L994.0,648.0 L1006.0,646.0 L1016.0,642.0 L1020.0,642.0 L1030.0,638.0 L1038.0,646.0 L1046.0,658.0 L1062.0,658.0 L1074.0,650.0 L1078.0,648.0 L1082.0,648.0 L1094.0,646.0 L1110.0,650.0 L1110.0,660.0 L1120.0,664.0 L1130.0,666.0 L1140.0,668.0 L1152.0,664.0 L1160.0,660.0 L1170.0,656.0 L1180.0,652.0 L1190.0,648.0 L1200.0,642.0 L1208.0,638.0 L1216.0,634.0 L1224.0,630.0 L1236.0,628.0 L1244.0,626.0 L1252.0,624.0 L1260.0,622.0 L1270.0,626.0 L1276.0,636.0 L1280.0,644.0 L1280.0,652.0 L1252.0,676.0 L1240.0,680.0 L1228.0,678.0 L1220.0,678.0 L1210.0,680.0 L1200.0,684.0 L1190.0,688.0 L1180.0,690.0 L1170.0,694.0 L1160.0,696.0 L1150.0,698.0 L1140.0,700.0 L1130.0,698.0 L1120.0,700.0 L1112.0,706.0 L1100.0,710.0 L1100.0,703.5 L1090.0,704.8 L1075.0,703.5 L1060.0,702.2 L1045.0,701.0 L1035.0,698.5 L1025.0,701.0 L1010.0,698.5 L995.0,693.5 L985.0,688.5 L975.0,691.0 L966.0,698.0 L956.0,700.0 L946.0,702.0 L934.0,703.0 L922.0,706.0 L910.0,708.0 L898.0,706.0 L890.0,708.0 L882.0,706.0 L876.0,710.0 L882.0,714.0 L876.0,720.0 L870.0,726.0 L874.0,732.0 L866.0,738.0 L858.0,742.0 L848.0,744.0 L838.0,742.0 L828.0,740.0 L820.0,734.0 L814.0,728.0 L806.0,726.0 L800.0,720.0 L794.0,716.0 L790.0,706.0 L784.0,700.0 L778.0,698.0 L770.0,700.0 L764.0,704.0 L766.0,712.0 L774.0,716.0 L782.0,720.0 L780.0,726.0 L774.0,732.0 L766.0,736.0 L758.0,738.0 L750.0,740.0 L742.0,738.0 L738.0,732.0 L734.0,724.0 L736.0,714.0 L738.0,704.0 L738.0,692.0Z" fill="#f9e000" stroke="#f9e000" stroke-width="15" stroke-linejoin="round"/>
<path d="M738.0,680.0 L740.0,672.0 L750.0,670.0 L760.0,674.0 L766.0,676.0 L774.0,670.0 L786.0,664.0 L796.0,660.0 L800.0,652.0 L810.0,644.0 L822.0,638.0 L834.0,634.0 L846.0,632.0 L858.0,634.0 L866.0,642.0 L874.0,648.0 L886.0,646.0 L898.0,644.0 L910.0,646.0 L922.0,644.0 L934.0,642.0 L946.0,642.0 L956.0,644.0 L970.0,650.0 L982.0,650.0 L994.0,648.0 L1006.0,646.0 L1016.0,642.0 L1020.0,642.0 L1030.0,638.0 L1038.0,646.0 L1046.0,658.0 L1062.0,658.0 L1074.0,650.0 L1078.0,648.0 L1082.0,648.0 L1094.0,646.0 L1110.0,650.0 L1110.0,660.0 L1120.0,664.0 L1130.0,666.0 L1140.0,668.0 L1152.0,664.0 L1160.0,660.0 L1170.0,656.0 L1180.0,652.0 L1190.0,648.0 L1200.0,642.0 L1208.0,638.0 L1216.0,634.0 L1224.0,630.0 L1236.0,628.0 L1244.0,626.0 L1252.0,624.0 L1260.0,622.0 L1270.0,626.0 L1276.0,636.0 L1280.0,644.0 L1280.0,652.0 L1252.0,676.0 L1240.0,680.0 L1228.0,678.0 L1220.0,678.0 L1210.0,680.0 L1200.0,684.0 L1190.0,688.0 L1180.0,690.0 L1170.0,694.0 L1160.0,696.0 L1150.0,698.0 L1140.0,700.0 L1130.0,698.0 L1120.0,700.0 L1112.0,706.0 L1100.0,710.0 L1100.0,703.5 L1090.0,704.8 L1075.0,703.5 L1060.0,702.2 L1045.0,701.0 L1035.0,698.5 L1025.0,701.0 L1010.0,698.5 L995.0,693.5 L985.0,688.5 L975.0,691.0 L966.0,698.0 L956.0,700.0 L946.0,702.0 L934.0,703.0 L922.0,706.0 L910.0,708.0 L898.0,706.0 L890.0,708.0 L882.0,706.0 L876.0,710.0 L882.0,714.0 L876.0,720.0 L870.0,726.0 L874.0,732.0 L866.0,738.0 L858.0,742.0 L848.0,744.0 L838.0,742.0 L828.0,740.0 L820.0,734.0 L814.0,728.0 L806.0,726.0 L800.0,720.0 L794.0,716.0 L790.0,706.0 L784.0,700.0 L778.0,698.0 L770.0,700.0 L764.0,704.0 L766.0,712.0 L774.0,716.0 L782.0,720.0 L780.0,726.0 L774.0,732.0 L766.0,736.0 L758.0,738.0 L750.0,740.0 L742.0,738.0 L738.0,732.0 L734.0,724.0 L736.0,714.0 L738.0,704.0 L738.0,692.0Z" fill="#b3d13f" stroke="#b3d13f" stroke-width="12.5" stroke-linejoin="round"/>
<path d="M738.0,680.0 L740.0,672.0 L750.0,670.0 L760.0,674.0 L766.0,676.0 L774.0,670.0 L786.0,664.0 L796.0,660.0 L800.0,652.0 L810.0,644.0 L822.0,638.0 L834.0,634.0 L846.0,632.0 L858.0,634.0 L866.0,642.0 L874.0,648.0 L886.0,646.0 L898.0,644.0 L910.0,646.0 L922.0,644.0 L934.0,642.0 L946.0,642.0 L956.0,644.0 L970.0,650.0 L982.0,650.0 L994.0,648.0 L1006.0,646.0 L1016.0,642.0 L1020.0,642.0 L1030.0,638.0 L1038.0,646.0 L1046.0,658.0 L1062.0,658.0 L1074.0,650.0 L1078.0,648.0 L1082.0,648.0 L1094.0,646.0 L1110.0,650.0 L1110.0,660.0 L1120.0,664.0 L1130.0,666.0 L1140.0,668.0 L1152.0,664.0 L1160.0,660.0 L1170.0,656.0 L1180.0,652.0 L1190.0,648.0 L1200.0,642.0 L1208.0,638.0 L1216.0,634.0 L1224.0,630.0 L1236.0,628.0 L1244.0,626.0 L1252.0,624.0 L1260.0,622.0 L1270.0,626.0 L1276.0,636.0 L1280.0,644.0 L1280.0,652.0 L1252.0,676.0 L1240.0,680.0 L1228.0,678.0 L1220.0,678.0 L1210.0,680.0 L1200.0,684.0 L1190.0,688.0 L1180.0,690.0 L1170.0,694.0 L1160.0,696.0 L1150.0,698.0 L1140.0,700.0 L1130.0,698.0 L1120.0,700.0 L1112.0,706.0 L1100.0,710.0 L1100.0,703.5 L1090.0,704.8 L1075.0,703.5 L1060.0,702.2 L1045.0,701.0 L1035.0,698.5 L1025.0,701.0 L1010.0,698.5 L995.0,693.5 L985.0,688.5 L975.0,691.0 L966.0,698.0 L956.0,700.0 L946.0,702.0 L934.0,703.0 L922.0,706.0 L910.0,708.0 L898.0,706.0 L890.0,708.0 L882.0,706.0 L876.0,710.0 L882.0,714.0 L876.0,720.0 L870.0,726.0 L874.0,732.0 L866.0,738.0 L858.0,742.0 L848.0,744.0 L838.0,742.0 L828.0,740.0 L820.0,734.0 L814.0,728.0 L806.0,726.0 L800.0,720.0 L794.0,716.0 L790.0,706.0 L784.0,700.0 L778.0,698.0 L770.0,700.0 L764.0,704.0 L766.0,712.0 L774.0,716.0 L782.0,720.0 L780.0,726.0 L774.0,732.0 L766.0,736.0 L758.0,738.0 L750.0,740.0 L742.0,738.0 L738.0,732.0 L734.0,724.0 L736.0,714.0 L738.0,704.0 L738.0,692.0Z" fill="#4b93a0" stroke="#4b93a0" stroke-width="6" stroke-linejoin="round"/>
<path d="M738.0,680.0 L740.0,672.0 L750.0,670.0 L760.0,674.0 L766.0,676.0 L774.0,670.0 L786.0,664.0 L796.0,660.0 L800.0,652.0 L810.0,644.0 L822.0,638.0 L834.0,634.0 L846.0,632.0 L858.0,634.0 L866.0,642.0 L874.0,648.0 L886.0,646.0 L898.0,644.0 L910.0,646.0 L922.0,644.0 L934.0,642.0 L946.0,642.0 L956.0,644.0 L970.0,650.0 L982.0,650.0 L994.0,648.0 L1006.0,646.0 L1016.0,642.0 L1020.0,642.0 L1030.0,638.0 L1038.0,646.0 L1046.0,658.0 L1062.0,658.0 L1074.0,650.0 L1078.0,648.0 L1082.0,648.0 L1094.0,646.0 L1110.0,650.0 L1110.0,660.0 L1120.0,664.0 L1130.0,666.0 L1140.0,668.0 L1152.0,664.0 L1160.0,660.0 L1170.0,656.0 L1180.0,652.0 L1190.0,648.0 L1200.0,642.0 L1208.0,638.0 L1216.0,634.0 L1224.0,630.0 L1236.0,628.0 L1244.0,626.0 L1252.0,624.0 L1260.0,622.0 L1270.0,626.0 L1276.0,636.0 L1280.0,644.0 L1280.0,652.0 L1252.0,676.0 L1240.0,680.0 L1228.0,678.0 L1220.0,678.0 L1210.0,680.0 L1200.0,684.0 L1190.0,688.0 L1180.0,690.0 L1170.0,694.0 L1160.0,696.0 L1150.0,698.0 L1140.0,700.0 L1130.0,698.0 L1120.0,700.0 L1112.0,706.0 L1100.0,710.0 L1100.0,703.5 L1090.0,704.8 L1075.0,703.5 L1060.0,702.2 L1045.0,701.0 L1035.0,698.5 L1025.0,701.0 L1010.0,698.5 L995.0,693.5 L985.0,688.5 L975.0,691.0 L966.0,698.0 L956.0,700.0 L946.0,702.0 L934.0,703.0 L922.0,706.0 L910.0,708.0 L898.0,706.0 L890.0,708.0 L882.0,706.0 L876.0,710.0 L882.0,714.0 L876.0,720.0 L870.0,726.0 L874.0,732.0 L866.0,738.0 L858.0,742.0 L848.0,744.0 L838.0,742.0 L828.0,740.0 L820.0,734.0 L814.0,728.0 L806.0,726.0 L800.0,720.0 L794.0,716.0 L790.0,706.0 L784.0,700.0 L778.0,698.0 L770.0,700.0 L764.0,704.0 L766.0,712.0 L774.0,716.0 L782.0,720.0 L780.0,726.0 L774.0,732.0 L766.0,736.0 L758.0,738.0 L750.0,740.0 L742.0,738.0 L738.0,732.0 L734.0,724.0 L736.0,714.0 L738.0,704.0 L738.0,692.0Z" fill="#1b74cf"/>
<path d="M812.5,757.2 L820.0,769.0 L840.0,767.0 L865.0,772.0 L885.0,780.5 L897.5,783.0 L905.0,776.5 L897.5,786.0 L890.0,791.0 L882.5,796.0 L880.0,803.5 L872.5,806.0 L865.0,811.0 L857.5,813.5 L852.5,803.5 L847.5,793.5 L840.0,791.0 L835.0,796.0 L825.0,783.5Z" fill="#dc3a00" stroke="#dc3a00" stroke-width="27" stroke-linejoin="round"/>
<path d="M812.5,757.2 L820.0,769.0 L840.0,767.0 L865.0,772.0 L885.0,780.5 L897.5,783.0 L905.0,776.5 L897.5,786.0 L890.0,791.0 L882.5,796.0 L880.0,803.5 L872.5,806.0 L865.0,811.0 L857.5,813.5 L852.5,803.5 L847.5,793.5 L840.0,791.0 L835.0,796.0 L825.0,783.5Z" fill="#e67300" stroke="#e67300" stroke-width="23" stroke-linejoin="round"/>
<path d="M812.5,757.2 L820.0,769.0 L840.0,767.0 L865.0,772.0 L885.0,780.5 L897.5,783.0 L905.0,776.5 L897.5,786.0 L890.0,791.0 L882.5,796.0 L880.0,803.5 L872.5,806.0 L865.0,811.0 L857.5,813.5 L852.5,803.5 L847.5,793.5 L840.0,791.0 L835.0,796.0 L825.0,783.5Z" fill="#f0a800" stroke="#f0a800" stroke-width="19" stroke-linejoin="round"/>
<path d="M812.5,757.2 L820.0,769.0 L840.0,767.0 L865.0,772.0 L885.0,780.5 L897.5,783.0 L905.0,776.5 L897.5,786.0 L890.0,791.0 L882.5,796.0 L880.0,803.5 L872.5,806.0 L865.0,811.0 L857.5,813.5 L852.5,803.5 L847.5,793.5 L840.0,791.0 L835.0,796.0 L825.0,783.5Z" fill="#f9e000" stroke="#f9e000" stroke-width="15" stroke-linejoin="round"/>
<path d="M812.5,757.2 L820.0,769.0 L840.0,767.0 L865.0,772.0 L885.0,780.5 L897.5,783.0 L905.0,776.5 L897.5,786.0 L890.0,791.0 L882.5,796.0 L880.0,803.5 L872.5,806.0 L865.0,811.0 L857.5,813.5 L852.5,803.5 L847.5,793.5 L840.0,791.0 L835.0,796.0 L825.0,783.5Z" fill="#b3d13f" stroke="#b3d13f" stroke-width="12.5" stroke-linejoin="round"/>
<path d="M812.5,757.2 L820.0,769.0 L840.0,767.0 L865.0,772.0 L885.0,780.5 L897.5,783.0 L905.0,776.5 L897.5,786.0 L890.0,791.0 L882.5,796.0 L880.0,803.5 L872.5,806.0 L865.0,811.0 L857.5,813.5 L852.5,803.5 L847.5,793.5 L840.0,791.0 L835.0,796.0 L825.0,783.5Z" fill="#4b93a0" stroke="#4b93a0" stroke-width="6" stroke-linejoin="round"/>
<path d="M812.5,757.2 L820.0,769.0 L840.0,767.0 L865.0,772.0 L885.0,780.5 L897.5,783.0 L905.0,776.5 L897.5,786.0 L890.0,791.0 L882.5,796.0 L880.0,803.5 L872.5,806.0 L865.0,811.0 L857.5,813.5 L852.5,803.5 L847.5,793.5 L840.0,791.0 L835.0,796.0 L825.0,783.5Z" fill="#1b74cf"/>
<path d="M1205.0,766.0 L1210.0,761.0 L1220.0,758.5 L1230.0,761.0 L1240.0,773.5 L1260.0,791.0 L1260.0,811.0 L1240.0,813.5 L1230.0,818.5 L1220.0,821.0 L1212.5,818.5 L1207.5,811.0 L1201.2,801.0 L1187.5,786.0 L1187.5,773.5Z" fill="#dc3a00" stroke="#dc3a00" stroke-width="27" stroke-linejoin="round"/>
<path d="M1205.0,766.0 L1210.0,761.0 L1220.0,758.5 L1230.0,761.0 L1240.0,773.5 L1260.0,791.0 L1260.0,811.0 L1240.0,813.5 L1230.0,818.5 L1220.0,821.0 L1212.5,818.5 L1207.5,811.0 L1201.2,801.0 L1187.5,786.0 L1187.5,773.5Z" fill="#e67300" stroke="#e67300" stroke-width="23" stroke-linejoin="round"/>
<path d="M1205.0,766.0 L1210.0,761.0 L1220.0,758.5 L1230.0,761.0 L1240.0,773.5 L1260.0,791.0 L1260.0,811.0 L1240.0,813.5 L1230.0,818.5 L1220.0,821.0 L1212.5,818.5 L1207.5,811.0 L1201.2,801.0 L1187.5,786.0 L1187.5,773.5Z" fill="#f0a800" stroke="#f0a800" stroke-width="19" stroke-linejoin="round"/>
<path d="M1205.0,766.0 L1210.0,761.0 L1220.0,758.5 L1230.0,761.0 L1240.0,773.5 L1260.0,791.0 L1260.0,811.0 L1240.0,813.5 L1230.0,818.5 L1220.0,821.0 L1212.5,818.5 L1207.5,811.0 L1201.2,801.0 L1187.5,786.0 L1187.5,773.5Z" fill="#f9e000" stroke="#f9e000" stroke-width="15" stroke-linejoin="round"/>
<path d="M1205.0,766.0 L1210.0,761.0 L1220.0,758.5 L1230.0,761.0 L1240.0,773.5 L1260.0,791.0 L1260.0,811.0 L1240.0,813.5 L1230.0,818.5 L1220.0,821.0 L1212.5,818.5 L1207.5,811.0 L1201.2,801.0 L1187.5,786.0 L1187.5,773.5Z" fill="#b3d13f" stroke="#b3d13f" stroke-width="12.5" stroke-linejoin="round"/>
<path d="M1205.0,766.0 L1210.0,761.0 L1220.0,758.5 L1230.0,761.0 L1240.0,773.5 L1260.0,791.0 L1260.0,811.0 L1240.0,813.5 L1230.0,818.5 L1220.0,821.0 L1212.5,818.5 L1207.5,811.0 L1201.2,801.0 L1187.5,786.0 L1187.5,773.5Z" fill="#4b93a0" stroke="#4b93a0" stroke-width="6" stroke-linejoin="round"/>
<path d="M1205.0,766.0 L1210.0,761.0 L1220.0,758.5 L1230.0,761.0 L1240.0,773.5 L1260.0,791.0 L1260.0,811.0 L1240.0,813.5 L1230.0,818.5 L1220.0,821.0 L1212.5,818.5 L1207.5,811.0 L1201.2,801.0 L1187.5,786.0 L1187.5,773.5Z" fill="#1b74cf"/>
<path d="M1150.0,696.0 L1170.0,692.0 L1190.0,688.0 L1210.0,680.0 L1228.0,678.0 L1230.0,688.0 L1226.0,700.0 L1212.0,706.0 L1196.0,710.0 L1180.0,708.0 L1164.0,710.0 L1150.0,708.0Z" fill="#b3d13f"/>
<path d="M1150.0,697.0 L1170.0,693.0 L1190.0,689.0 L1210.0,681.0 L1224.0,679.0 L1220.0,686.0 L1204.0,692.0 L1184.0,698.0 L1166.0,700.0 L1150.0,702.0Z" fill="#4b93a0"/>
<path d="M1150.0,706.0 L1164.0,707.0 L1180.0,705.0 L1196.0,707.0 L1212.0,703.0 L1226.0,697.0 L1225.0,706.0 L1222.0,714.0 L1150.0,715.0Z" fill="#f0a800"/>
<path d="M1150.0,711.0 L1180.0,710.0 L1212.0,708.0 L1224.0,706.0 L1221.0,716.0 L1150.0,717.0Z" fill="#e67300"/>
<path d="M1244.0,626.0 L1252.0,621.0 L1262.0,619.0 L1272.0,624.0 L1277.0,634.0 L1274.0,642.0 L1266.0,644.0 L1258.0,640.0 L1250.0,640.0 L1246.0,634.0Z" fill="#4b93a0"/>
<path d="M1248.0,628.0 L1256.0,624.0 L1264.0,626.0 L1268.0,634.0 L1260.0,636.0 L1252.0,634.0Z" fill="#b3d13f" opacity="0.8"/>
<path d="M1254.0,625.0 L1260.0,623.6 L1262.0,628.0 L1257.0,629.0Z" fill="#1b74cf"/>
<path d="M764.0,704.0 L770.0,700.0 L778.0,698.0 L784.0,700.0 L790.0,706.0 L794.0,716.0 L788.0,720.0 L782.0,720.0 L774.0,716.0 L766.0,712.0Z" fill="#f0a800" stroke="#b3d13f" stroke-width="2" stroke-linejoin="round"/>
<path d="M776.0,700.0 L784.0,702.0 L787.0,708.0 L781.0,709.0 L777.0,705.0Z" fill="#cc0000"/>
<path d="M696.0,696.0 L702.0,704.0 L710.0,712.0 L718.0,718.0 L726.0,724.0 L730.0,732.0" fill="none" stroke="#1b74cf" stroke-width="2" stroke-linecap="round" stroke-linejoin="round"/>
<path d="M710.0,690.0 L718.0,696.0 L724.0,704.0 L730.0,714.0 L733.0,724.0" fill="none" stroke="#1b74cf" stroke-width="2" stroke-linecap="round" stroke-linejoin="round"/>
<path d="M736.0,740.0 L742.0,744.0 L750.0,750.0 L758.0,754.0" fill="none" stroke="#1b74cf" stroke-width="2" stroke-linecap="round" stroke-linejoin="round"/>
<path d="M726.0,696.0 L730.0,704.0 L735.0,710.0" fill="none" stroke="#1b74cf" stroke-width="2" stroke-linecap="round" stroke-linejoin="round"/>
<path d="M702.0,690.0 L708.0,698.0 L716.0,706.0" fill="none" stroke="#1b74cf" stroke-width="2" stroke-linecap="round" stroke-linejoin="round"/>
<path d="M720.0,700.0 L725.0,708.0 L730.0,716.0" fill="none" stroke="#f9e000" stroke-width="1" stroke-linecap="round" stroke-linejoin="round"/>
<path d="M742.0,716.0 L746.0,724.0 L750.0,732.0" fill="none" stroke="#f9e000" stroke-width="1" stroke-linecap="round" stroke-linejoin="round"/>
<path d="M741.0,714.0 L748.0,716.0 L750.0,728.0 L746.0,734.0 L742.0,728.0Z" fill="#cc0000"/>
<path d="M1065.0,733.5 L1066.2,741.0 L1061.2,748.5" fill="none" stroke="#cc0000" stroke-width="1.5" stroke-linecap="round" stroke-linejoin="round"/>
</g>
</g>
<path d="M1215.6,878.2 L1223.2,876.5 L1232.9,874.7" fill="none" stroke="#1b74cf" stroke-width="4" stroke-linecap="round"/>
<path d="M1190.9,878.2 L1208.1,879.3 L1214.6,878.2" fill="none" stroke="#1b74cf" stroke-width="2" stroke-linecap="round" stroke-dasharray="3 4"/>
<path d="M1235.0,873.9 L1240.4,870.0 L1246.8,862.5 L1249.4,857.1" fill="none" stroke="#1b74cf" stroke-width="2" stroke-linecap="round" stroke-dasharray="4 3"/>
<path d="M418.8,648.8 L422.5,650.0 L423.0,653.8 L420.0,653.0Z" fill="#cc0000"/>
<path d="M438.8,645.0 L445.0,647.0 L445.5,650.0 L440.0,649.0Z" fill="#cc0000"/>
<path d="M440.0,657.5 L445.5,660.0 L446.2,663.8 L441.2,662.5Z" fill="#cc0000"/>
<path d="M429.5,643.0 L431.5,643.0 L431.5,645.0 L429.5,645.0Z" fill="#cc0000"/>
<path d="M402.5,628.0 L410.0,627.5 L418.8,629.5 L417.5,632.0 L407.5,631.5 L403.0,630.5Z" fill="#1b74cf"/>
<path d="M405.0,630.0 L411.2,630.5 L410.0,633.0 L405.5,632.5Z" fill="#cc0000"/>
<g fill="none" stroke="#000" stroke-width="3.8" stroke-linejoin="round" stroke-linecap="round">
<path d="M352.5,235.0 L932.5,235.0 L932.5,226.2 L942.5,226.2 L945.0,240.0 L955.0,243.8 L965.0,246.2 L975.0,244.5 L985.0,246.2 L990.0,250.0 L995.0,253.8 L1001.2,252.5 L1007.5,258.8 L1015.0,258.8 L1022.5,255.0 L1030.0,257.5 L1040.0,260.0 L1053.8,261.2 L1040.0,266.2 L1027.5,273.8 L1015.0,283.8 L1002.5,291.2 L993.8,296.2 L1005.0,293.8 L1015.0,291.2 L1022.5,291.2 L1026.2,295.0 L1023.8,298.8 L1032.5,297.5 L1040.0,293.8 L1052.5,288.8 L1065.0,283.8 L1075.0,277.5 L1083.8,275.0 L1091.2,276.2 L1087.5,280.0 L1080.0,283.8 L1075.0,290.0 L1076.2,293.8 L1082.5,288.8 L1090.0,291.2 L1097.5,297.5 L1105.0,301.2 L1115.0,298.8 L1125.0,295.5 L1137.5,295.0 L1148.8,293.8 L1150.0,300.0 L1157.5,302.5 L1165.0,301.2 L1166.2,310.0 L1171.2,315.0 L1160.0,315.0 L1150.0,313.8 L1140.0,312.0 L1130.0,313.8 L1120.0,317.5 L1112.5,317.5 L1105.0,317.5 L1100.0,325.0 L1095.0,333.8 L1091.2,340.0 L1083.8,352.5 L1086.2,351.2 L1095.0,342.5 L1102.5,332.5 L1106.2,335.0 L1100.0,345.0 L1095.0,355.0 L1091.2,370.0 L1088.8,385.0 L1088.8,400.0 L1090.0,412.5 L1092.5,422.5 L1096.2,428.8 L1100.0,430.0 L1107.5,427.5 L1115.0,422.5 L1118.8,412.5 L1122.5,400.0 L1121.2,387.5 L1116.2,375.0 L1115.0,365.0 L1118.8,352.5 L1123.8,342.5 L1130.0,335.0 L1137.5,328.8 L1145.0,321.2 L1150.0,316.2 L1155.0,315.0 L1165.0,320.0 L1175.0,325.0 L1182.5,332.5 L1185.0,340.0 L1181.2,350.0 L1180.0,360.0 L1172.5,370.0 L1171.2,375.0 L1175.0,377.5 L1180.0,371.2 L1187.5,365.0 L1195.0,366.2 L1198.8,375.0 L1201.2,387.5 L1201.2,395.0 L1196.2,402.5 L1197.5,407.5 L1190.0,412.5 L1186.2,420.0 L1182.5,426.2 L1190.0,432.5 L1197.5,435.0 L1207.5,431.2 L1220.0,426.2 L1235.0,421.2 L1250.0,416.2 L1262.5,410.0 L1272.5,402.5 L1277.5,395.0 L1273.8,387.5 L1285.0,385.0 L1300.0,386.2 L1312.5,387.5 L1322.5,383.8 L1330.0,377.5 L1331.2,370.0 L1328.8,365.0 L1340.0,355.0 L1350.0,346.2 L1360.0,340.0 L1432.5,339.2 L1433.8,332.5 L1440.0,331.2 L1447.5,328.8 L1452.5,320.0 L1457.5,315.0 L1457.5,307.5 L1461.2,300.0 L1462.5,292.5 L1470.0,285.0 L1476.2,277.5 L1480.5,275.0 L1485.0,280.5 L1492.5,278.8 L1500.0,277.5 L1507.5,282.5 L1511.2,287.5 L1511.2,297.5 L1510.0,310.0 L1509.5,320.0 L1516.2,323.8 L1518.8,332.5 L1523.8,337.5 L1527.5,345.0 L1520.0,350.0 L1512.5,352.5 L1505.0,356.2 L1497.5,358.8 L1490.0,357.5 L1485.0,362.5 L1477.5,370.0 L1470.0,372.5 L1462.5,376.2 L1455.0,382.5 L1450.0,390.0 L1447.5,395.0 L1445.0,400.0 L1446.0,400.0 L1448.0,408.0 L1444.0,414.0 L1448.0,422.0 L1452.0,430.0 L1457.0,428.0 L1462.0,426.0 L1460.0,419.0 L1464.0,420.0 L1465.6,428.0 L1460.0,433.6 L1452.0,432.0 L1446.0,433.0 L1438.0,431.0 L1436.0,434.0 L1428.0,435.0 L1425.0,440.0 L1425.0,445.0 L1414.0,449.0 L1400.0,454.0 L1388.0,457.0 L1377.0,460.0 L1378.0,456.0 L1380.0,464.0 L1379.0,476.0 L1372.0,486.0 L1364.0,496.0 L1360.0,500.0 L1358.0,506.0 L1357.0,515.0 L1356.0,522.0 L1352.0,530.0 L1346.0,538.0 L1340.0,547.0 L1338.0,550.0 L1339.0,554.0 L1339.0,552.0 L1343.0,564.0 L1347.0,576.0 L1349.0,586.0 L1348.0,596.0 L1340.0,602.0 L1332.0,608.0 L1326.0,614.0 L1316.0,616.0 L1308.0,620.0 L1302.0,626.0 L1298.0,632.0 L1292.0,634.0 L1282.0,635.0 L1276.0,640.0 L1271.0,649.0 L1269.0,655.0 L1260.0,660.0 L1252.0,665.0 L1244.0,670.0 L1238.0,674.0 L1234.0,680.0 L1230.0,688.0 L1226.0,698.0 L1222.0,708.0 L1220.0,718.0 L1223.8,728.5 L1227.5,743.5 L1232.5,761.0 L1237.5,776.0 L1242.5,791.0 L1247.5,806.0 L1251.2,821.0 L1252.5,833.5 L1251.2,848.5 L1245.0,859.8 L1237.5,863.5 L1231.2,863.5 L1227.5,856.0 L1220.0,846.0 L1215.0,836.0 L1210.0,823.5 L1205.0,816.0 L1200.0,806.0 L1197.5,796.0 L1193.8,786.0 L1195.0,773.5 L1192.5,763.5 L1187.5,756.0 L1180.0,746.0 L1172.5,736.0 L1165.0,733.5 L1155.0,736.0 L1147.5,741.0 L1140.0,744.8 L1137.5,738.5 L1130.0,732.2 L1120.0,727.2 L1110.0,726.0 L1100.0,723.5 L1093.8,722.2 L1088.8,727.2 L1085.0,717.2 L1083.8,727.2 L1075.0,726.0 L1065.0,725.5 L1055.0,727.2 L1052.5,729.8 L1058.8,738.5 L1052.5,746.0 L1056.2,751.0 L1062.5,757.2 L1055.0,761.0 L1050.0,753.5 L1042.5,751.0 L1037.5,756.0 L1030.0,754.8 L1022.5,757.2 L1017.5,753.5 L1012.5,744.8 L1002.5,741.0 L995.0,744.8 L987.5,746.0 L975.0,742.2 L965.0,742.2 L958.8,742.2 L950.0,744.8 L940.0,746.0 L935.0,756.0 L922.5,764.8 L910.0,771.0 L900.0,774.8 L892.5,783.5 L885.0,793.5 L880.0,804.8 L883.8,813.5 L887.5,826.0 L891.2,841.0 L885.0,843.5 L875.0,839.8 L865.0,836.0 L852.5,832.2 L848.8,828.5 L843.8,816.0 L841.2,806.0 L836.2,797.2 L832.0,790.0 L826.0,782.0 L820.0,772.0 L816.0,762.0 L810.0,754.0 L804.0,746.0 L798.0,741.0 L790.0,740.0 L780.0,740.0 L774.0,744.0 L772.0,752.0 L768.0,760.0 L762.0,762.0 L756.0,758.0 L748.0,754.0 L740.0,748.0 L734.0,740.0 L732.0,732.0 L728.0,722.0 L720.0,716.0 L712.0,710.0 L704.0,702.0 L696.0,694.0 L690.0,688.0 L692.5,689.5 L658.8,689.5 L658.8,701.2 L641.2,701.2 L600.0,701.2 L520.0,670.0 L520.0,665.0 L471.2,670.0 L467.5,660.0 L462.5,647.5 L455.0,638.8 L445.0,636.2 L437.5,630.0 L425.0,625.0 L415.0,620.0 L400.0,616.2 L396.2,608.0 L392.5,598.0 L385.0,588.0 L376.2,578.0 L370.0,568.0 L370.0,558.0 L362.5,548.0 L358.8,538.0 L356.2,523.0 L348.8,521.8 L342.5,513.0 L336.2,503.0 L330.0,493.0 L327.5,480.5 L322.5,468.0 L316.2,459.2 L317.5,450.5 L321.2,438.0 L320.0,419.5 L317.5,412.5 L315.0,397.5 L318.8,385.0 L322.5,365.0 L325.0,340.0 L327.5,315.0 L326.2,306.2 L327.5,297.5 L330.0,290.0 L323.8,290.0 L321.2,280.0 L313.8,262.5 L310.5,252.0 L327.5,256.2 L343.8,259.5 L345.5,252.5 L343.0,245.0 L350.0,240.0Z"/>
<path d="M473.2,235.0 L473.2,311.2 L475.0,313.0"/>
<path d="M326.2,306.2 L336.2,308.0 L343.8,310.0 L350.0,315.0 L352.5,322.5 L362.5,325.0 L372.5,323.0 L385.0,322.0 L395.0,320.0 L407.5,318.0 L420.0,315.5 L435.0,313.8 L450.0,313.0 L475.0,313.0"/>
<path d="M475.0,313.0 L481.2,318.8 L483.8,325.0 L481.2,332.5 L477.5,340.0 L473.8,347.5 L470.0,353.8 L468.8,358.8 L475.0,362.5 L473.8,370.0 L473.8,419.5"/>
<path d="M320.0,419.5 L599.3,419.5"/>
<path d="M493.8,235.0 L493.8,260.0 L497.5,268.8 L502.5,276.2 L510.0,282.5 L517.5,290.0 L523.8,296.2 L530.0,297.5 L530.0,307.5 L527.5,315.0 L525.0,322.5 L527.5,327.5 L533.8,325.0 L537.5,322.5 L541.2,330.0 L545.0,337.5 L550.0,345.0 L555.0,350.0 L558.8,356.2 L565.0,353.8 L575.0,352.5 L585.0,352.0 L591.2,351.2 L593.8,347.5 L598.8,352.5"/>
<path d="M599.3,340.4 L746.7,340.4"/>
<path d="M599.3,340.4 L599.3,445.8"/>
<path d="M746.7,235.0 L746.7,445.8"/>
<path d="M746.7,315.6 L904.4,315.6"/>
<path d="M746.7,393.1 L863.5,393.1 L862.5,393.0 L872.5,400.0 L887.5,397.5 L900.0,401.2"/>
<path d="M890.0,236.2 L892.5,247.5 L896.2,265.0 L898.8,280.0 L901.2,297.5 L902.5,315.0 L898.8,323.8 L905.0,332.5 L908.0,345.0 L908.0,380.0 L903.8,381.2 L902.5,387.5 L903.8,395.0 L900.0,401.2 L907.5,412.5 L911.2,425.0 L915.0,438.0"/>
<path d="M917.5,438.0 L918.8,448.0 L921.2,456.0 L927.5,472.2 L935.0,476.8 L938.8,481.8 L936.2,486.8 L942.5,494.2 L944.5,496.8"/>
<path d="M945.2,495.9 L945.2,564.4 L949.2,593.4 L948.1,639.7"/>
<path d="M906.7,379.9 L1016.8,379.9"/>
<path d="M788.8,472.1 L927.5,472.2"/>
<path d="M599.3,445.8 L788.8,445.8"/>
<path d="M788.8,445.8 L788.8,551.2"/>
<path d="M641.4,445.8 L641.4,700.6"/>
<path d="M536.4,419.5 L536.4,574.9"/>
<path d="M536.4,551.2 L945.2,551.2"/>
<path d="M410.9,419.5 L410.9,498.5 L524.0,603.9"/>
<path d="M535.0,572.5 L530.0,576.2 L522.5,575.0 L521.2,585.0 L523.8,597.5 L527.5,607.5 L530.0,617.5 L535.0,623.8 L530.0,630.0 L525.0,635.0 L523.8,645.0 L521.2,652.5 L525.0,657.5 L523.8,665.0"/>
<path d="M768.8,551.2 L768.0,683.0"/>
<path d="M768.0,683.0 L692.6,683.0 L692.5,689.5"/>
<path d="M768.8,564.4 L831.9,564.4 L831.9,615.5 L834.0,620.0 L846.0,623.0 L854.0,626.0 L864.0,627.0 L872.0,632.0 L878.0,635.0 L888.0,636.0 L898.0,634.0 L908.0,637.0 L918.0,634.0 L926.0,633.0 L934.0,632.0 L942.0,636.0 L950.0,639.0 L956.0,643.0 L956.0,657.0"/>
<path d="M945.2,564.4 L1039.3,564.4 L1040.0,576.8 L1046.2,576.8"/>
<path d="M957.4,656.6 L1017.8,656.6"/>
<path d="M957.0,657.0 L957.0,682.0 L959.0,688.0 L964.0,698.0 L967.0,708.0 L965.0,720.0 L963.0,732.0 L960.0,740.0 L958.0,744.0"/>
<path d="M993.8,296.2 L993.0,312.5 L985.0,316.2 L980.5,325.0 L983.8,330.0 L983.0,340.0 L985.0,347.5 L992.5,352.5 L1000.0,358.8 L1008.8,365.0 L1015.0,375.0 L1016.2,381.2 L1017.5,390.0 L1021.2,400.0 L1027.5,406.2 L1035.0,412.5 L1038.8,420.0 L1035.0,430.0 L1025.0,435.0 L1020.0,438.0 L1022.5,445.5 L1017.5,453.0 L1011.2,458.0 L1010.0,468.0 L1015.0,478.0 L1022.5,488.0 L1027.5,498.0 L1035.0,500.5 L1037.5,508.0 L1033.8,515.5 L1037.5,521.8 L1045.0,528.0 L1051.2,535.5 L1055.0,543.0 L1058.8,548.0 L1061.2,553.0 L1056.2,558.0 L1051.2,565.5 L1048.8,575.5 L1045.0,585.5 L1040.0,595.5 L1037.5,603.0 L1032.5,613.0 L1027.5,620.5 L1022.0,628.0 L1018.0,638.0 L1017.0,648.0 L1020.0,658.0 L1022.0,668.0 L1020.0,678.0 L1016.0,686.0 L1012.0,696.0 L1009.0,704.0 L1008.0,710.0 L1048.0,711.0 L1050.0,720.0 L1053.0,728.0"/>
<path d="M1029.0,406.3 L1088.8,406.3"/>
<path d="M1025.0,298.8 L1040.0,305.0 L1055.0,309.5 L1070.0,313.8 L1080.0,317.5 L1086.2,322.5 L1087.5,330.0 L1091.2,335.0 L1091.2,340.0"/>
<path d="M1094.4,425.8 L1094.4,489.3 L1091.2,498.0 L1092.5,505.5 L1087.5,513.0 L1083.8,520.5 L1081.2,526.8"/>
<path d="M1058.8,549.2 L1061.2,548.0 L1067.5,543.0 L1075.0,538.0 L1081.2,526.8 L1090.0,525.5 L1100.0,524.2 L1105.0,528.0 L1115.0,521.8 L1125.0,525.5 L1132.5,518.0 L1137.5,510.5 L1140.0,505.5 L1150.0,503.0 L1152.5,496.8 L1160.0,498.0 L1165.0,503.0 L1175.0,506.8 L1185.0,505.5 L1190.0,506.8 L1197.5,510.5 L1198.0,514.0 L1204.0,508.0 L1210.0,500.0 L1218.0,494.0 L1224.0,488.0 L1232.0,482.0 L1236.0,470.0 L1238.0,458.0 L1240.0,450.0 L1241.6,440.0"/>
<path d="M1151.5,426.6 L1152.5,496.8"/>
<path d="M1114.0,425.8 L1151.5,425.8 L1180.3,426.6"/>
<path d="M1242.0,420.2 L1242.0,479.5 L1341.6,479.5"/>
<path d="M1258.0,412.3 L1258.0,419.5 L1350.8,419.5"/>
<path d="M1351.0,420.0 L1356.0,428.0 L1362.0,438.0 L1358.0,446.0 L1354.0,454.0 L1358.0,462.0 L1364.0,468.0 L1359.0,472.0 L1352.0,476.0 L1347.0,480.0"/>
<path d="M1363.0,438.0 L1382.0,447.0"/>
<path d="M1390.0,340.0 L1391.2,355.0 L1390.0,370.0 L1393.8,387.5 L1396.2,400.0 L1391.2,420.0 L1389.0,420.0 L1388.0,444.0"/>
<path d="M1432.5,340.0 L1430.0,350.0 L1422.5,362.5 L1417.5,375.0 L1413.8,387.5 L1410.0,401.2"/>
<path d="M1440.0,331.2 L1442.5,340.0 L1443.8,365.0 L1445.0,385.0 L1446.2,395.0"/>
<path d="M1396.2,401.2 L1437.5,401.2 L1445.0,397.5"/>
<path d="M1389.0,420.0 L1436.0,420.0 L1438.0,430.0"/>
<path d="M1428.0,420.0 L1428.0,435.0"/>
<path d="M1347.0,480.0 L1344.0,482.0 L1344.0,514.0 L1357.0,515.0"/>
<path d="M1346.0,522.0 L1354.0,520.0"/>
<path d="M1263.0,480.0 L1263.0,494.0 L1270.0,489.0 L1278.0,483.0 L1284.0,481.0 L1290.0,484.0 L1296.0,489.0 L1300.0,492.0 L1304.0,494.0 L1310.0,498.0 L1318.0,502.0 L1314.0,510.0 L1310.0,516.0 L1316.0,516.0 L1324.0,520.0 L1329.0,524.0"/>
<path d="M1300.0,492.0 L1294.0,497.0 L1286.0,494.0 L1280.0,502.0 L1274.0,504.0 L1270.0,510.0 L1262.0,511.0 L1258.0,518.0 L1252.0,524.0 L1248.0,534.0 L1242.0,540.0 L1232.0,542.0 L1224.0,546.0 L1216.0,543.0 L1212.0,542.0"/>
<path d="M1198.0,514.0 L1200.0,522.0 L1206.0,532.0 L1212.0,542.0 L1204.0,548.0 L1192.0,556.0 L1180.0,562.0"/>
<path d="M1055.0,564.2 L1083.8,564.2 L1083.8,560.5 L1340.0,564.0"/>
<path d="M1036.1,603.9 L1161.0,603.0 L1183.0,609.0"/>
<path d="M1161.0,602.0 L1164.0,598.0 L1172.0,590.0 L1184.0,583.0 L1196.0,578.0 L1206.0,574.0 L1214.0,568.0 L1216.0,563.0"/>
<path d="M1183.0,609.0 L1194.0,602.0 L1212.0,600.0 L1230.0,600.0 L1237.0,608.0 L1262.0,609.0 L1283.0,634.0"/>
<path d="M1183.0,609.0 L1188.0,618.0 L1196.0,628.0 L1204.0,640.0 L1212.0,652.0 L1220.0,662.0 L1224.0,670.0 L1228.0,680.0 L1230.0,684.0"/>
<path d="M1080.0,604.2 L1082.0,620.0 L1078.0,660.0 L1075.0,700.0 L1077.0,726.0"/>
<path d="M1134.0,605.0 L1140.0,640.0 L1146.0,668.0 L1148.0,678.0 L1144.0,688.0 L1146.0,700.0 L1148.0,710.0"/>
<path d="M1093.8,722.2 L1091.2,709.8 L1146.2,709.8 L1150.0,717.2 L1207.5,722.2 L1208.8,727.2 L1212.5,726.0 L1212.5,716.0 L1222.5,717.2"/>
<path d="M351.2,240.0 L346.2,243.8 L350.0,248.8 L356.2,247.5 L358.8,255.0 L362.5,261.2 L360.0,268.8 L356.2,273.8 L350.0,272.5 L346.2,278.8 L348.8,286.2 L355.5,282.5 L360.0,276.2" stroke-width="5"/>
<path d="M353.8,252.5 L355.5,261.2 L352.5,268.8" stroke-width="5"/>
<path d="M347.5,244.5 L351.2,247.0 L349.5,250.0" stroke-width="5"/>
<path d="M357.5,265.0 L361.2,266.2 L358.0,275.0 L352.5,280.5 L350.0,277.5" stroke-width="5"/>
<path d="M357.5,524.2 L363.0,526.0 L362.0,532.5 L365.5,537.5 L368.0,539.2" stroke-width="5"/>
<path d="M360.0,525.5 L363.8,529.2 L364.0,535.5" stroke-width="5"/>
<path d="M1320.0,524.0 L1324.0,530.0 L1330.0,536.0" stroke-width="5"/>
<path d="M1318.0,540.0 L1324.0,544.0 L1332.0,549.0" stroke-width="5"/>
<path d="M1326.0,512.0 L1329.0,520.0 L1333.0,528.0 L1332.0,540.0" stroke-width="5"/>
<path d="M1322.0,570.0 L1328.0,574.0 L1324.0,580.0 L1332.0,583.0 L1338.0,580.0" stroke-width="5"/>
<path d="M1318.0,592.0 L1326.0,590.0 L1334.0,593.0 L1340.0,588.0" stroke-width="5"/>
<path d="M1314.0,600.0 L1322.0,602.0 L1330.0,604.0 L1326.0,609.0" stroke-width="5"/>
<path d="M1320.0,544.0 L1326.0,548.0 L1330.0,554.0" stroke-width="5"/>
<path d="M1193.8,789.8 L1198.8,791.0 L1201.2,797.2 L1197.5,799.8" stroke-width="5"/>
<path d="M1459.0,419.0 L1463.0,420.0 L1465.0,427.0 L1461.0,430.0" stroke-width="5"/>
<path d="M1036.2,729.0 L1040.0,726.5 L1050.0,731.5 L1054.5,728.5" stroke-width="5"/>
<path d="M1036.2,729.0 L1040.0,733.5 L1047.5,736.0 L1054.5,733.5" stroke-width="5"/>
<path d="M1347.0,480.0 L1350.0,488.0 L1354.0,496.0 L1359.0,500.0" stroke-width="5"/>
<path d="M1340.0,482.0 L1336.0,490.0 L1332.4,500.0 L1333.0,512.0 L1335.0,524.0 L1334.0,536.0 L1338.0,550.0" stroke-width="5"/>
<path d="M1334.0,488.0 L1329.0,496.0 L1327.0,508.0 L1329.0,520.0 L1332.0,532.0 L1335.0,544.0" stroke-width="5"/>
<path d="M1382.0,447.0 L1392.0,443.0 L1404.0,439.0 L1416.0,437.0 L1428.0,434.4" stroke-width="5"/>
<path d="M1375.0,458.4 L1384.0,450.4 L1396.0,446.4 L1410.0,443.4 L1424.4,440.4" stroke-width="5"/>
<path d="M1203.8,817.3 L1206.4,818.8" stroke-width="5"/>
<path d="M1230.1,860.3 L1232.9,861.0" stroke-width="5"/>
<path d="M1460.4,438.0 L1463.0,439.2" stroke-width="5"/>
<path d="M1447.0,437.6 L1449.0,438.4" stroke-width="5"/>
<path d="M1136.2,336.8 L1138.8,338.8 L1137.4,345.8" stroke-width="5"/>
<path d="M1099.9,335.8 L1104.8,333.4" stroke-width="5"/>
<path d="M1105.8,319.9 L1113.8,317.9" stroke-width="5"/>
</g>
<g font-family="'Liberation Sans', Arial, sans-serif" fill="#000" text-anchor="middle">
<text x="920.6" y="57.3" font-size="33.56" font-weight="bold">Honeydew moth: Larvae relative pop. size w/ climate stress</text>
<text x="921" y="97" font-size="33.56" font-weight="bold">exclusion 05/30/2026</text>
<text x="921" y="148.2" font-size="27.09">Maps and modeling 02/13/2026 by Oregon State University IPPC USPEST.ORG and</text>
<text x="921" y="180.8" font-size="27.09">USDA-APHIS-PPQ; climate data from OSU PRISM Climate Group</text>
</g>
<text x="1571" y="403" font-family="'Liberation Sans', Arial, sans-serif" font-size="25.9" font-weight="bold" fill="#000">Relative pop. size</text>
<rect x="1571" y="417.50" width="25" height="25.70" fill="#4d4d4d"/>
<text x="1607.5" y="437.00" font-family="'DejaVu Sans', Verdana, sans-serif" font-size="20.4" letter-spacing="0.72" fill="#000">excl.-severe</text>
<rect x="1571" y="442.90" width="25" height="25.70" fill="#b3b3b3"/>
<text x="1607.5" y="462.40" font-family="'DejaVu Sans', Verdana, sans-serif" font-size="20.4" letter-spacing="0.72" fill="#000">excl.-moderate</text>
<rect x="1571" y="468.30" width="25" height="25.70" fill="#1b74cf"/>
<text x="1607.5" y="487.80" font-family="'DejaVu Sans', Verdana, sans-serif" font-size="20.4" letter-spacing="0.72" fill="#000">0-10</text>
<rect x="1571" y="493.70" width="25" height="25.70" fill="#4b93a0"/>
<text x="1607.5" y="513.20" font-family="'DejaVu Sans', Verdana, sans-serif" font-size="20.4" letter-spacing="0.72" fill="#000">10-20</text>
<rect x="1571" y="519.10" width="25" height="25.70" fill="#7cb073"/>
<text x="1607.5" y="538.60" font-family="'DejaVu Sans', Verdana, sans-serif" font-size="20.4" letter-spacing="0.72" fill="#000">20-30</text>
<rect x="1571" y="544.50" width="25" height="25.70" fill="#b3d13f"/>
<text x="1607.5" y="564.00" font-family="'DejaVu Sans', Verdana, sans-serif" font-size="20.4" letter-spacing="0.72" fill="#000">30-40</text>
<rect x="1571" y="569.90" width="25" height="25.70" fill="#e8ee1d"/>
<text x="1607.5" y="589.40" font-family="'DejaVu Sans', Verdana, sans-serif" font-size="20.4" letter-spacing="0.72" fill="#000">40-50</text>
<rect x="1571" y="595.30" width="25" height="25.70" fill="#f9e000"/>
<text x="1607.5" y="614.80" font-family="'DejaVu Sans', Verdana, sans-serif" font-size="20.4" letter-spacing="0.72" fill="#000">50-60</text>
<rect x="1571" y="620.70" width="25" height="25.70" fill="#f0a800"/>
<text x="1607.5" y="640.20" font-family="'DejaVu Sans', Verdana, sans-serif" font-size="20.4" letter-spacing="0.72" fill="#000">60-70</text>
<rect x="1571" y="646.10" width="25" height="25.70" fill="#e67300"/>
<text x="1607.5" y="665.60" font-family="'DejaVu Sans', Verdana, sans-serif" font-size="20.4" letter-spacing="0.72" fill="#000">70-80</text>
<rect x="1571" y="671.50" width="25" height="25.70" fill="#dc3a00"/>
<text x="1607.5" y="691.00" font-family="'DejaVu Sans', Verdana, sans-serif" font-size="20.4" letter-spacing="0.72" fill="#000">80-90</text>
<rect x="1571" y="696.90" width="25" height="25.70" fill="#cc0000"/>
<text x="1607.5" y="716.40" font-family="'DejaVu Sans', Verdana, sans-serif" font-size="20.4" letter-spacing="0.72" fill="#000">90-100</text>
</svg>
</body></html>
